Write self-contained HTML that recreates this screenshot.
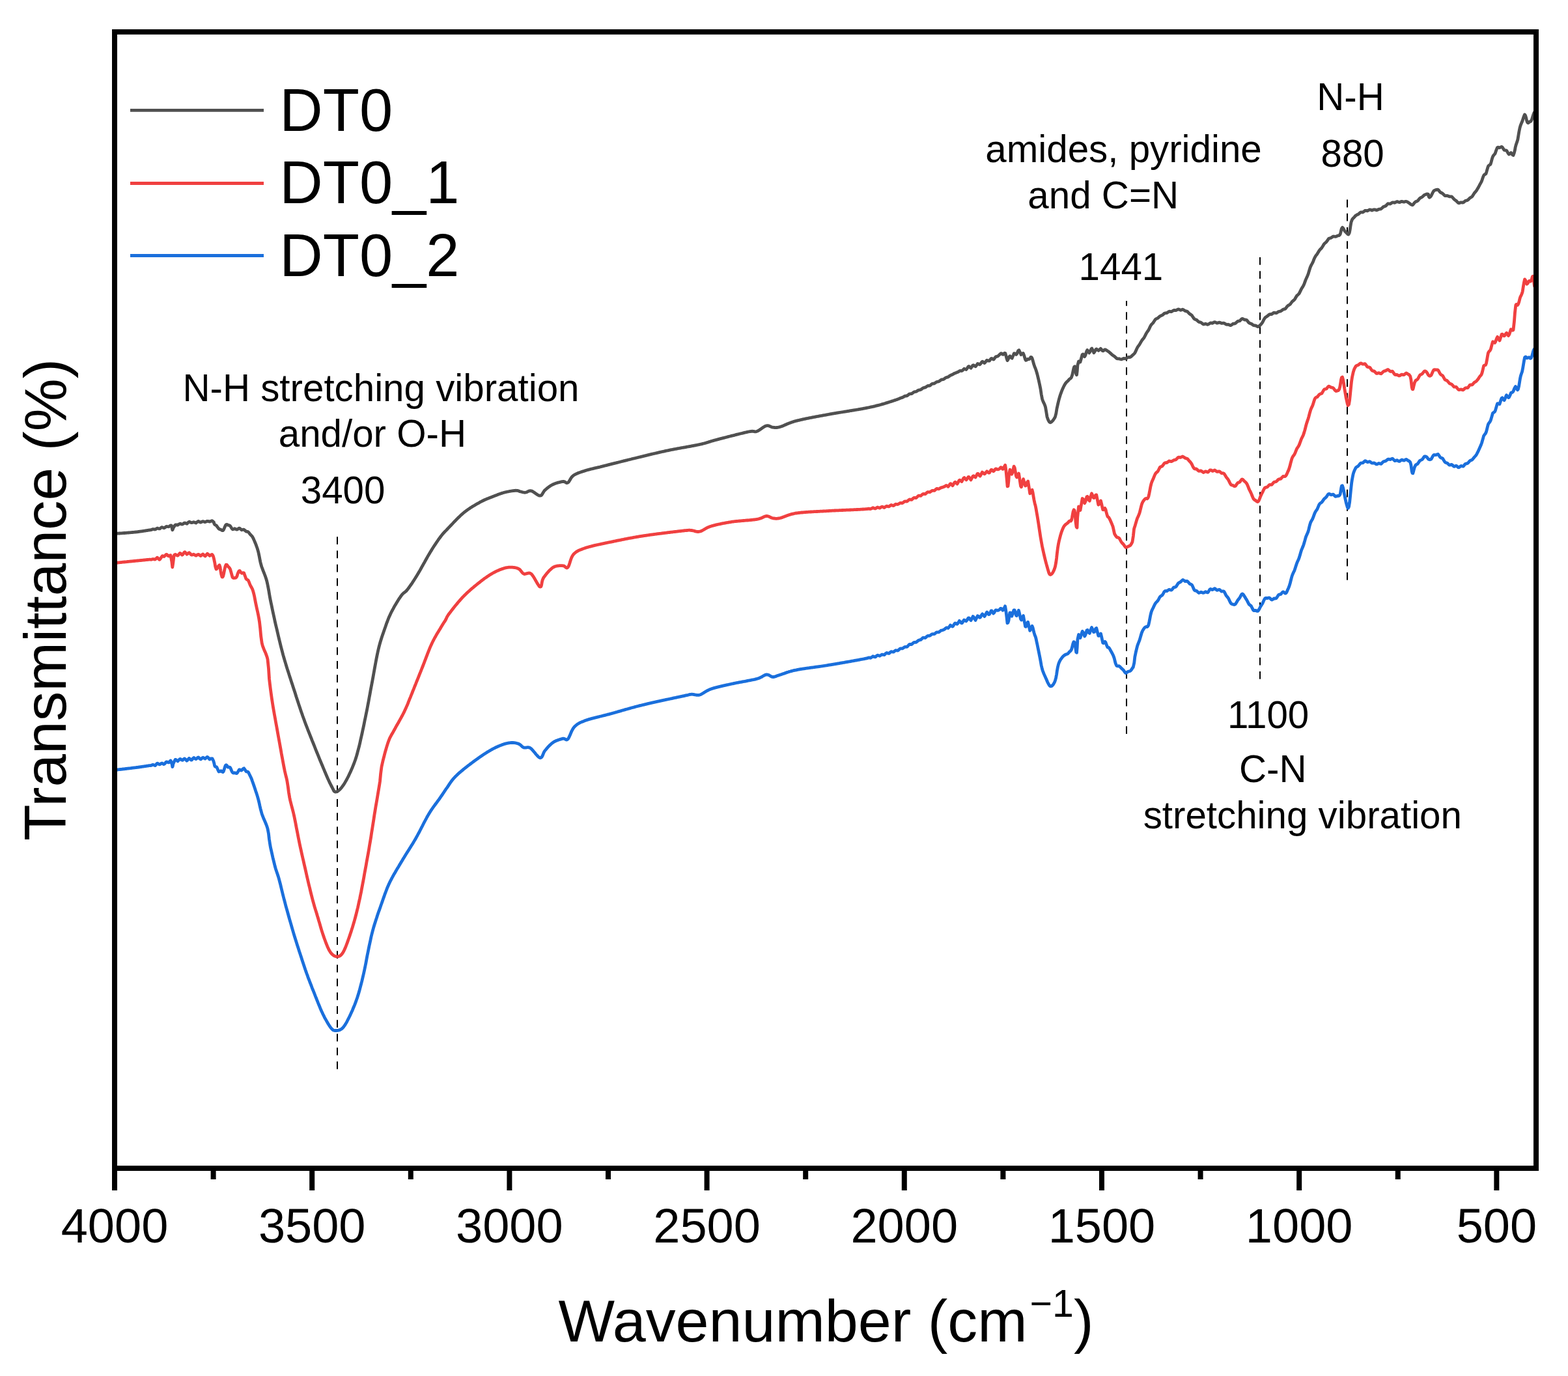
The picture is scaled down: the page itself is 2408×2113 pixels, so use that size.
<!DOCTYPE html><html><head><meta charset="utf-8"><style>html,body{margin:0;padding:0;background:#fff;}svg{display:block;}text{font-family:"Liberation Sans",Arial,sans-serif;fill:#000;}</style></head><body>
<svg width="2408" height="2113" viewBox="0 0 2408 2113">
<rect width="2408" height="2113" fill="#fff"/>
<defs><clipPath id="pc"><rect x="180" y="53" width="2175" height="1737"/></clipPath></defs>
<g stroke="#000" stroke-width="2" stroke-dasharray="11.8 9.4" fill="none">
<path d="M518,1641.7 V824"/>
<path d="M1730,1127 V462"/>
<path d="M1935,1042.8 V394"/>
<path d="M2069,890.8 V306"/>
</g>
<g clip-path="url(#pc)" fill="none" stroke-width="4.8" stroke-linejoin="round" stroke-linecap="round">
<path d="M176.0,819.5 L176.5,819.5 L177.1,819.4 L177.8,819.4 L178.5,819.3 L179.3,819.3 L180.1,819.2 L181.0,819.2 L181.9,819.1 L182.9,819.0 L183.8,819.0 L184.9,818.9 L185.9,818.8 L187.0,818.8 L188.1,818.7 L189.2,818.6 L190.4,818.5 L191.5,818.5 L192.7,818.4 L193.9,818.3 L195.1,818.2 L196.3,818.1 L197.4,818.0 L198.6,817.9 L199.8,817.8 L201.0,817.7 L202.1,817.6 L203.2,817.5 L204.3,817.4 L205.4,817.3 L206.5,817.2 L207.5,817.1 L208.5,817.0 L209.5,816.9 L210.6,816.8 L211.6,816.6 L212.7,816.5 L213.7,816.4 L214.7,816.2 L215.8,816.1 L216.8,815.9 L217.8,815.8 L218.9,815.6 L219.9,815.5 L220.9,815.3 L221.9,815.2 L223.0,815.0 L224.0,814.9 L225.0,814.7 L226.0,814.6 L227.0,814.4 L228.0,814.2 L229.0,814.1 L229.9,813.9 L230.9,813.9 L231.9,813.7 L232.9,813.4 L233.8,813.0 L234.8,812.6 L235.7,812.6 L236.7,812.8 L237.6,813.0 L238.5,812.9 L239.6,812.3 L240.7,811.5 L241.9,811.1 L243.0,811.5 L244.2,811.9 L245.4,811.9 L246.5,811.0 L247.7,810.0 L248.9,809.6 L250.0,810.1 L251.1,810.6 L252.2,810.9 L253.3,810.1 L254.4,809.3 L255.5,808.5 L256.5,808.6 L257.4,808.7 L258.4,808.8 L259.3,808.7 L260.1,808.2 L260.9,807.6 L261.6,807.2 L262.3,806.8 L262.9,806.9 L263.5,807.3 L264.8,813.9 L265.3,813.0 L266.1,810.7 L268.5,806.9 L269.2,806.1 L269.9,805.8 L270.8,805.9 L271.7,806.1 L272.7,806.3 L273.8,805.8 L274.9,805.1 L276.0,804.3 L277.1,804.2 L278.3,804.7 L279.5,805.1 L280.6,804.9 L281.8,804.0 L282.9,803.2 L284.0,803.0 L285.0,803.4 L286.0,803.8 L287.1,804.2 L288.0,803.3 L289.0,802.4 L289.9,801.6 L290.8,801.2 L291.7,801.6 L292.6,802.1 L293.5,802.5 L294.4,802.6 L295.4,802.4 L296.3,802.1 L297.4,801.7 L298.5,802.1 L299.7,802.5 L301.0,803.0 L301.8,802.4 L302.7,801.7 L303.7,801.0 L304.7,800.4 L305.7,801.0 L306.8,801.6 L307.9,802.2 L309.0,801.8 L310.1,801.2 L311.3,800.6 L312.5,800.8 L313.6,801.2 L314.8,801.7 L315.9,801.3 L317.1,800.8 L318.2,800.3 L319.2,800.3 L320.3,800.6 L321.3,800.9 L322.2,801.0 L323.1,800.6 L323.9,800.2 L324.7,799.9 L325.4,799.6 L326.0,799.9 L328.5,802.1 L328.7,803.7 L329.8,805.6 L330.5,806.0 L331.4,806.5 L332.4,807.1 L333.4,808.5 L334.6,810.1 L335.7,811.7 L336.9,812.5 L338.0,813.0 L339.1,813.3 L340.1,813.9 L341.0,814.5 L342.2,814.6 L343.3,813.6 L344.3,811.4 L345.3,809.0 L346.3,806.8 L347.3,805.6 L348.5,805.4 L349.4,805.8 L350.3,806.3 L351.2,806.5 L352.2,806.8 L353.2,807.3 L354.2,808.6 L355.2,810.3 L356.3,811.9 L357.4,812.8 L358.5,812.6 L359.5,812.2 L360.5,811.7 L361.5,812.3 L362.6,812.8 L363.7,813.2 L364.8,812.8 L365.8,812.0 L366.9,811.2 L368.0,811.2 L369.0,812.0 L370.0,812.9 L371.0,813.9 L372.1,813.5 L373.2,813.3 L374.3,813.1 L375.3,813.7 L376.3,814.6 L377.3,815.5 L378.3,816.2 L379.2,816.3 L380.1,816.4 L381.0,816.7 L382.2,817.9 L383.3,819.4 L384.4,820.8 L385.4,821.8 L386.4,822.7 L387.5,824.0 L388.5,825.8 L389.6,828.1 L390.7,830.6 L391.8,833.2 L393.0,836.1 L394.0,839.0 L395.1,842.0 L396.0,845.0 L397.1,849.2 L398.0,853.6 L398.9,858.2 L399.8,862.8 L401.0,867.5 L401.9,870.5 L403.0,873.4 L404.1,876.4 L405.3,879.4 L406.5,882.5 L407.7,885.7 L408.8,889.0 L409.8,892.5 L410.9,897.4 L411.9,902.5 L412.9,907.8 L413.8,913.3 L414.8,919.1 L416.0,925.0 L417.0,929.6 L418.0,934.4 L419.0,939.2 L420.1,944.2 L421.2,949.3 L422.3,954.5 L423.5,959.7 L424.8,965.0 L425.7,968.9 L426.6,972.8 L427.5,976.8 L428.5,980.9 L429.5,985.0 L430.5,989.1 L431.5,993.2 L432.6,997.4 L433.7,1001.6 L434.8,1005.8 L436.0,1010.0 L436.9,1013.1 L437.8,1016.2 L438.8,1019.4 L439.7,1022.6 L440.7,1025.7 L441.7,1028.9 L442.8,1032.1 L443.8,1035.4 L444.8,1038.6 L445.9,1041.8 L446.9,1044.9 L447.9,1048.1 L449.0,1051.3 L450.0,1054.4 L451.0,1057.5 L452.0,1060.6 L453.0,1063.6 L454.0,1066.7 L454.9,1069.7 L455.9,1072.7 L456.9,1075.7 L457.9,1078.7 L458.8,1081.6 L459.8,1084.6 L460.8,1087.6 L461.8,1090.6 L462.8,1093.5 L463.9,1096.5 L464.9,1099.5 L466.0,1102.5 L467.0,1105.2 L467.9,1107.8 L468.9,1110.5 L469.9,1113.1 L471.0,1115.8 L472.0,1118.5 L473.0,1121.2 L474.1,1123.8 L475.1,1126.5 L476.2,1129.1 L477.2,1131.8 L478.3,1134.4 L479.3,1137.1 L480.4,1139.7 L481.4,1142.3 L482.5,1144.9 L483.5,1147.5 L484.5,1150.1 L485.6,1152.8 L486.7,1155.5 L487.8,1158.2 L488.9,1160.9 L490.0,1163.6 L491.1,1166.3 L492.2,1169.0 L493.3,1171.7 L494.4,1174.3 L495.5,1176.8 L496.5,1179.3 L497.5,1181.7 L498.4,1183.9 L499.3,1186.1 L500.2,1188.1 L501.0,1190.0 L502.4,1193.2 L503.6,1196.0 L504.8,1198.5 L505.8,1200.7 L506.7,1202.7 L507.6,1204.4 L508.4,1206.0 L509.2,1207.5 L510.0,1209.0 L511.2,1211.4 L512.1,1213.3 L512.9,1214.7 L513.8,1215.6 L515.0,1216.0 L515.8,1216.0 L516.7,1215.8 L517.6,1215.5 L518.6,1215.0 L519.6,1214.3 L520.6,1213.5 L521.7,1212.5 L522.8,1211.4 L524.0,1210.0 L524.9,1208.9 L525.8,1207.6 L526.8,1206.3 L527.8,1204.8 L528.8,1203.3 L529.8,1201.7 L530.8,1199.9 L531.9,1198.1 L532.9,1196.2 L533.9,1194.2 L535.0,1192.1 L536.0,1190.0 L537.0,1187.8 L538.1,1185.6 L539.1,1183.3 L540.1,1180.9 L541.2,1178.5 L542.2,1175.9 L543.3,1173.3 L544.3,1170.5 L545.4,1167.5 L546.4,1164.4 L547.5,1161.0 L548.5,1157.5 L549.5,1153.7 L550.6,1149.6 L551.7,1145.3 L552.8,1140.7 L553.8,1136.1 L554.9,1131.2 L556.0,1126.4 L557.0,1121.5 L558.1,1116.6 L559.1,1111.8 L560.0,1107.1 L561.0,1102.5 L562.1,1097.1 L563.2,1091.8 L564.2,1086.6 L565.2,1081.3 L566.2,1076.1 L567.1,1070.9 L568.1,1065.7 L569.0,1060.5 L570.0,1055.2 L571.0,1050.0 L572.0,1044.7 L573.0,1039.2 L574.0,1033.6 L575.0,1028.0 L576.0,1022.5 L577.0,1017.1 L578.0,1011.8 L579.0,1006.7 L580.0,1001.9 L581.0,997.5 L582.0,993.4 L583.0,989.6 L584.0,986.0 L585.0,982.7 L586.0,979.5 L587.0,976.5 L588.0,973.6 L589.0,970.7 L590.0,967.9 L591.0,965.0 L592.0,962.2 L592.9,959.5 L593.8,956.9 L594.8,954.5 L595.7,952.0 L596.6,949.6 L597.6,947.3 L598.7,944.9 L599.8,942.5 L601.0,940.0 L601.9,938.3 L602.8,936.6 L603.8,934.8 L604.8,932.9 L605.8,931.1 L606.9,929.3 L608.0,927.5 L609.0,925.7 L610.1,923.9 L611.2,922.2 L612.2,920.6 L613.2,919.0 L614.2,917.6 L615.1,916.2 L616.0,915.0 L617.2,913.4 L618.2,912.2 L619.2,911.3 L620.1,910.5 L621.0,909.8 L621.9,909.2 L622.8,908.4 L623.8,907.6 L624.8,906.4 L626.0,905.0 L626.8,903.9 L627.7,902.7 L628.6,901.5 L629.5,900.2 L630.4,898.9 L631.4,897.5 L632.4,896.1 L633.4,894.6 L634.4,893.0 L635.4,891.4 L636.5,889.7 L637.6,888.0 L638.7,886.2 L639.8,884.4 L641.0,882.5 L641.9,881.0 L642.8,879.5 L643.8,877.8 L644.8,876.1 L645.8,874.3 L646.8,872.5 L647.8,870.7 L648.9,868.8 L649.9,866.9 L651.0,865.0 L652.1,863.1 L653.1,861.2 L654.2,859.3 L655.2,857.5 L656.2,855.7 L657.2,853.9 L658.2,852.2 L659.2,850.6 L660.1,849.0 L661.0,847.5 L662.2,845.6 L663.3,843.8 L664.4,842.0 L665.5,840.3 L666.5,838.7 L667.6,837.1 L668.6,835.6 L669.6,834.1 L670.5,832.7 L671.5,831.3 L672.4,830.0 L673.3,828.7 L674.2,827.4 L675.1,826.2 L676.0,825.0 L677.1,823.5 L678.1,822.3 L678.9,821.2 L679.7,820.2 L680.5,819.3 L681.3,818.5 L682.1,817.5 L683.1,816.5 L684.2,815.4 L685.5,814.1 L687.0,812.5 L687.7,811.7 L688.5,810.9 L689.3,810.0 L690.2,809.1 L691.1,808.2 L692.0,807.2 L693.0,806.2 L694.0,805.1 L695.0,804.1 L696.0,803.0 L697.0,801.9 L698.1,800.8 L699.2,799.7 L700.2,798.6 L701.3,797.5 L702.4,796.4 L703.5,795.3 L704.6,794.2 L705.7,793.2 L706.8,792.1 L707.8,791.1 L708.9,790.2 L710.0,789.2 L711.0,788.3 L712.0,787.5 L713.0,786.7 L714.0,785.9 L715.0,785.1 L716.1,784.3 L717.1,783.6 L718.1,782.8 L719.1,782.1 L720.2,781.4 L721.2,780.7 L722.2,780.0 L723.3,779.3 L724.3,778.7 L725.3,778.0 L726.3,777.4 L727.4,776.8 L728.4,776.2 L729.4,775.6 L730.4,775.0 L731.3,774.4 L732.3,773.9 L733.3,773.3 L734.2,772.8 L735.2,772.3 L736.1,771.8 L737.0,771.2 L738.1,770.6 L739.2,770.1 L740.3,769.5 L741.4,769.0 L742.4,768.5 L743.4,768.0 L744.5,767.5 L745.5,767.1 L746.5,766.7 L747.5,766.2 L748.4,765.8 L749.4,765.5 L750.4,765.1 L751.3,764.7 L752.3,764.3 L753.2,764.0 L754.2,763.6 L755.1,763.2 L756.1,762.9 L757.0,762.5 L758.1,762.1 L759.2,761.6 L760.2,761.2 L761.3,760.8 L762.3,760.4 L763.4,760.0 L764.4,759.6 L765.4,759.2 L766.4,758.8 L767.4,758.5 L768.4,758.1 L769.4,757.8 L770.4,757.4 L771.4,757.1 L772.5,756.8 L773.5,756.5 L774.5,756.2 L775.5,756.0 L776.6,755.7 L777.7,755.5 L778.8,755.2 L780.0,755.0 L781.1,754.8 L782.2,754.5 L783.3,754.3 L784.4,754.2 L785.5,754.0 L786.6,753.8 L787.6,753.7 L788.6,753.6 L789.5,753.5 L790.4,753.4 L791.2,753.3 L792.0,753.2 L793.6,753.3 L794.9,753.4 L795.9,753.7 L796.8,754.0 L797.6,754.4 L798.5,754.7 L799.5,755.0 L800.6,755.2 L801.6,755.5 L802.6,755.8 L803.7,756.0 L804.8,756.2 L805.9,756.3 L807.0,756.2 L808.0,756.0 L809.0,755.7 L810.0,755.1 L811.0,754.6 L812.0,754.1 L813.2,753.8 L814.4,753.6 L815.8,753.8 L816.7,754.0 L817.7,754.5 L818.7,755.1 L819.8,755.9 L821.0,756.6 L822.1,757.5 L823.3,758.3 L824.4,759.1 L825.6,759.8 L826.7,760.4 L827.7,760.9 L828.6,761.2 L829.5,761.2 L830.9,760.9 L832.0,759.9 L832.9,758.6 L833.8,757.1 L834.7,755.5 L835.7,753.9 L837.0,752.5 L837.9,751.8 L838.8,751.0 L839.7,750.2 L840.7,749.4 L841.7,748.6 L842.8,747.8 L843.9,747.1 L845.0,746.3 L846.1,745.6 L847.2,744.9 L848.4,744.3 L849.5,743.8 L850.4,743.3 L851.4,742.9 L852.5,742.5 L853.5,742.1 L854.6,741.8 L855.7,741.4 L856.8,741.1 L857.9,740.8 L858.9,740.6 L860.0,740.3 L861.0,740.1 L861.9,739.9 L862.9,739.7 L863.7,739.6 L864.5,739.5 L866.0,739.5 L867.2,739.9 L868.2,740.5 L869.1,741.1 L870.0,741.5 L870.9,741.6 L872.0,741.2 L873.0,740.4 L873.9,739.3 L874.8,737.8 L875.7,736.2 L876.7,734.5 L877.8,732.9 L879.2,731.3 L880.8,730.0 L881.5,729.5 L882.4,729.0 L883.2,728.5 L884.1,728.1 L885.1,727.6 L886.0,727.2 L887.0,726.8 L888.1,726.3 L889.1,725.9 L890.2,725.5 L891.3,725.2 L892.4,724.8 L893.6,724.4 L894.7,724.0 L895.9,723.6 L897.1,723.3 L898.3,722.9 L899.5,722.5 L900.4,722.2 L901.2,722.0 L902.1,721.7 L902.9,721.5 L903.7,721.3 L904.5,721.1 L905.3,720.8 L906.2,720.6 L907.0,720.4 L907.9,720.2 L908.7,720.0 L909.6,719.8 L910.5,719.6 L911.4,719.4 L912.4,719.1 L913.4,718.9 L914.4,718.7 L915.5,718.4 L916.6,718.2 L917.8,717.9 L919.0,717.6 L920.3,717.3 L921.6,717.0 L923.0,716.6 L924.5,716.2 L925.3,716.1 L926.0,715.9 L926.8,715.7 L927.7,715.5 L928.5,715.2 L929.3,715.0 L930.2,714.8 L931.1,714.6 L932.0,714.4 L932.9,714.1 L933.8,713.9 L934.8,713.7 L935.7,713.4 L936.7,713.2 L937.7,712.9 L938.7,712.7 L939.6,712.4 L940.7,712.2 L941.7,711.9 L942.7,711.7 L943.7,711.4 L944.8,711.1 L945.8,710.9 L946.9,710.6 L947.9,710.3 L949.0,710.1 L950.1,709.8 L951.1,709.5 L952.2,709.3 L953.3,709.0 L954.4,708.7 L955.5,708.5 L956.5,708.2 L957.6,707.9 L958.7,707.6 L959.8,707.4 L960.9,707.1 L962.0,706.8 L963.0,706.6 L964.1,706.3 L965.2,706.0 L966.2,705.8 L967.3,705.5 L968.3,705.3 L969.4,705.0 L970.4,704.7 L971.5,704.5 L972.5,704.2 L973.5,704.0 L974.5,703.8 L975.5,703.5 L976.5,703.3 L977.5,703.0 L978.5,702.8 L979.5,702.5 L980.5,702.3 L981.5,702.0 L982.5,701.8 L983.5,701.6 L984.5,701.3 L985.5,701.1 L986.5,700.8 L987.5,700.6 L988.5,700.3 L989.5,700.1 L990.5,699.9 L991.5,699.6 L992.5,699.4 L993.5,699.1 L994.5,698.9 L995.5,698.6 L996.5,698.4 L997.5,698.2 L998.5,697.9 L999.5,697.7 L1000.5,697.4 L1001.5,697.2 L1002.5,697.0 L1003.5,696.7 L1004.5,696.5 L1005.5,696.3 L1006.5,696.0 L1007.5,695.8 L1008.5,695.6 L1009.5,695.3 L1010.5,695.1 L1011.5,694.9 L1012.5,694.6 L1013.5,694.4 L1014.5,694.2 L1015.5,694.0 L1016.5,693.7 L1017.5,693.5 L1018.5,693.3 L1019.5,693.1 L1020.5,692.9 L1021.5,692.6 L1022.5,692.4 L1023.5,692.2 L1024.5,692.0 L1025.5,691.8 L1026.5,691.6 L1027.5,691.4 L1028.6,691.2 L1029.6,690.9 L1030.7,690.7 L1031.7,690.5 L1032.8,690.3 L1033.8,690.1 L1034.9,689.9 L1036.0,689.7 L1037.0,689.5 L1038.1,689.3 L1039.2,689.1 L1040.3,688.9 L1041.4,688.7 L1042.5,688.5 L1043.5,688.3 L1044.6,688.1 L1045.7,687.9 L1046.8,687.7 L1047.9,687.5 L1048.9,687.3 L1050.0,687.1 L1051.1,687.0 L1052.1,686.8 L1053.2,686.6 L1054.2,686.4 L1055.3,686.2 L1056.3,686.0 L1057.3,685.8 L1058.3,685.6 L1059.4,685.5 L1060.3,685.3 L1061.3,685.1 L1062.3,684.9 L1063.3,684.7 L1064.2,684.6 L1065.2,684.4 L1066.1,684.2 L1067.0,684.0 L1067.9,683.9 L1068.8,683.7 L1069.7,683.5 L1070.5,683.3 L1071.3,683.2 L1072.2,683.0 L1073.0,682.8 L1073.7,682.7 L1074.5,682.5 L1075.9,682.2 L1077.3,681.9 L1078.5,681.6 L1079.6,681.3 L1080.7,681.0 L1081.7,680.8 L1082.6,680.5 L1083.5,680.3 L1084.3,680.0 L1085.1,679.8 L1085.9,679.5 L1086.6,679.3 L1087.4,679.1 L1088.1,678.8 L1088.9,678.6 L1089.7,678.3 L1090.5,678.1 L1091.4,677.8 L1092.3,677.5 L1093.3,677.2 L1094.4,676.9 L1095.5,676.6 L1096.7,676.2 L1098.1,675.9 L1099.5,675.5 L1100.3,675.3 L1101.1,675.1 L1101.9,674.9 L1102.8,674.7 L1103.7,674.4 L1104.6,674.2 L1105.5,673.9 L1106.5,673.7 L1107.5,673.4 L1108.5,673.2 L1109.5,672.9 L1110.6,672.6 L1111.7,672.3 L1112.7,672.1 L1113.8,671.8 L1115.0,671.5 L1116.1,671.2 L1117.2,670.9 L1118.4,670.6 L1119.5,670.3 L1120.7,670.0 L1121.8,669.7 L1123.0,669.4 L1124.1,669.1 L1125.3,668.8 L1126.4,668.6 L1127.6,668.3 L1128.7,668.0 L1129.9,667.7 L1131.0,667.4 L1132.1,667.1 L1133.2,666.8 L1134.3,666.6 L1135.4,666.3 L1136.5,666.0 L1137.5,665.8 L1138.5,665.5 L1139.6,665.3 L1140.5,665.1 L1141.5,664.8 L1142.4,664.6 L1143.3,664.4 L1144.2,664.2 L1145.1,664.0 L1145.9,663.8 L1146.7,663.6 L1147.5,663.4 L1148.2,663.3 L1148.9,663.1 L1149.5,663.0 L1151.8,662.6 L1153.7,662.3 L1155.2,662.2 L1156.4,662.3 L1157.2,662.4 L1157.9,662.5 L1158.5,662.7 L1159.0,662.8 L1159.6,662.9 L1160.2,662.9 L1161.0,662.8 L1162.0,662.5 L1162.9,662.1 L1163.9,661.7 L1164.9,661.1 L1166.0,660.5 L1167.0,659.8 L1168.1,659.1 L1169.1,658.3 L1170.2,657.6 L1171.2,656.8 L1172.3,656.1 L1173.3,655.5 L1174.3,654.9 L1175.2,654.4 L1176.1,654.0 L1177.0,653.8 L1178.2,653.6 L1179.3,653.6 L1180.3,653.8 L1181.3,654.1 L1182.2,654.5 L1183.2,654.9 L1184.1,655.4 L1185.0,655.8 L1186.0,656.1 L1187.0,656.2 L1187.9,656.3 L1188.7,656.4 L1189.5,656.5 L1190.3,656.6 L1191.1,656.6 L1192.0,656.6 L1192.9,656.5 L1194.0,656.4 L1195.1,656.2 L1196.5,655.9 L1198.0,655.5 L1198.7,655.3 L1199.5,655.0 L1200.2,654.8 L1200.9,654.5 L1201.7,654.2 L1202.5,653.9 L1203.3,653.5 L1204.1,653.2 L1204.9,652.8 L1205.8,652.4 L1206.7,652.1 L1207.6,651.7 L1208.5,651.2 L1209.5,650.8 L1210.5,650.4 L1211.6,650.0 L1212.7,649.6 L1213.8,649.1 L1215.0,648.7 L1216.2,648.3 L1217.4,647.9 L1218.7,647.4 L1220.1,647.0 L1221.5,646.6 L1223.0,646.2 L1223.8,646.1 L1224.5,645.9 L1225.3,645.7 L1226.1,645.5 L1226.9,645.3 L1227.8,645.1 L1228.6,644.9 L1229.5,644.7 L1230.3,644.5 L1231.2,644.3 L1232.1,644.1 L1233.0,643.9 L1233.9,643.7 L1234.8,643.5 L1235.8,643.3 L1236.7,643.1 L1237.7,642.9 L1238.6,642.7 L1239.6,642.5 L1240.6,642.3 L1241.6,642.1 L1242.6,641.9 L1243.6,641.7 L1244.6,641.5 L1245.7,641.3 L1246.7,641.1 L1247.7,640.9 L1248.8,640.7 L1249.8,640.5 L1250.9,640.3 L1252.0,640.1 L1253.0,639.9 L1254.1,639.7 L1255.2,639.5 L1256.3,639.3 L1257.4,639.1 L1258.5,638.9 L1259.6,638.7 L1260.7,638.5 L1261.8,638.3 L1262.9,638.1 L1264.0,637.9 L1265.1,637.7 L1266.3,637.5 L1267.4,637.3 L1268.5,637.1 L1269.6,636.9 L1270.8,636.7 L1271.9,636.5 L1273.0,636.2 L1273.9,636.1 L1274.8,635.9 L1275.8,635.7 L1276.7,635.6 L1277.7,635.4 L1278.7,635.2 L1279.6,635.1 L1280.6,634.9 L1281.6,634.7 L1282.6,634.6 L1283.7,634.4 L1284.7,634.2 L1285.7,634.0 L1286.8,633.9 L1287.8,633.7 L1288.9,633.5 L1289.9,633.3 L1291.0,633.2 L1292.0,633.0 L1293.1,632.8 L1294.2,632.7 L1295.3,632.5 L1296.4,632.3 L1297.4,632.1 L1298.5,632.0 L1299.6,631.8 L1300.7,631.6 L1301.8,631.4 L1302.9,631.3 L1303.9,631.1 L1305.0,630.9 L1306.1,630.7 L1307.2,630.6 L1308.3,630.4 L1309.3,630.2 L1310.4,630.0 L1311.5,629.9 L1312.6,629.7 L1313.6,629.5 L1314.7,629.3 L1315.7,629.2 L1316.7,629.0 L1317.8,628.8 L1318.8,628.6 L1319.8,628.4 L1320.8,628.3 L1321.8,628.1 L1322.8,627.9 L1323.8,627.8 L1324.8,627.6 L1325.8,627.4 L1326.7,627.2 L1327.6,627.1 L1328.6,626.9 L1329.5,626.7 L1330.4,626.5 L1331.3,626.4 L1332.1,626.2 L1333.0,626.0 L1333.9,625.8 L1334.7,625.7 L1335.5,625.5 L1336.8,625.2 L1338.1,624.9 L1339.4,624.6 L1340.7,624.4 L1341.9,624.1 L1343.1,623.8 L1344.3,623.5 L1345.5,623.2 L1346.6,622.9 L1347.8,622.6 L1348.9,622.3 L1350.0,622.1 L1351.0,621.8 L1352.1,621.5 L1353.1,621.2 L1354.1,620.9 L1355.1,620.6 L1356.1,620.3 L1357.1,620.1 L1358.0,619.8 L1359.0,619.5 L1359.9,619.2 L1360.8,618.9 L1361.7,618.6 L1362.7,618.4 L1363.5,618.1 L1364.4,617.8 L1365.3,617.5 L1366.2,617.2 L1367.0,617.0 L1367.9,616.7 L1368.8,616.4 L1369.6,616.1 L1370.5,615.8 L1371.3,615.6 L1372.2,615.3 L1373.0,615.0 L1374.2,614.6 L1375.4,614.2 L1376.6,613.8 L1377.7,613.4 L1378.8,613.0 L1379.9,612.6 L1380.9,612.2 L1381.9,611.7 L1382.9,611.3 L1383.9,610.9 L1384.9,610.7 L1385.8,610.4 L1386.7,610.0 L1387.7,609.4 L1388.6,608.8 L1389.5,608.1 L1390.4,608.1 L1391.4,608.0 L1392.3,607.9 L1393.2,607.7 L1394.1,606.9 L1395.1,606.1 L1396.0,605.3 L1397.0,604.9 L1398.0,604.8 L1399.0,604.7 L1400.0,604.7 L1401.0,603.9 L1402.0,603.2 L1403.0,602.4 L1404.0,601.9 L1405.0,601.7 L1406.0,601.5 L1407.0,601.3 L1408.0,600.7 L1409.0,600.0 L1410.0,599.4 L1411.0,599.0 L1412.0,598.8 L1413.0,598.7 L1414.0,598.5 L1415.0,597.7 L1416.0,597.0 L1417.0,596.2 L1418.0,595.7 L1419.0,595.4 L1420.0,595.2 L1421.0,595.0 L1422.0,594.3 L1423.0,593.6 L1424.0,592.9 L1425.0,592.5 L1426.0,592.4 L1427.1,592.3 L1428.1,592.1 L1429.1,591.3 L1430.1,590.4 L1431.2,589.6 L1432.2,589.2 L1433.2,589.1 L1434.3,589.0 L1435.3,588.6 L1436.3,587.9 L1437.3,587.2 L1438.4,586.5 L1439.4,586.2 L1440.4,586.1 L1441.4,585.9 L1442.3,585.5 L1443.3,584.7 L1444.3,584.0 L1445.2,583.2 L1446.2,582.9 L1447.1,582.8 L1448.0,582.7 L1449.1,582.5 L1450.2,581.6 L1451.2,580.8 L1452.2,580.0 L1453.2,579.7 L1454.2,579.4 L1455.2,579.2 L1456.1,578.9 L1457.1,578.2 L1458.0,577.5 L1458.9,576.8 L1459.9,576.2 L1460.8,575.9 L1461.8,575.5 L1462.8,575.1 L1463.8,574.5 L1464.8,573.9 L1465.8,573.3 L1466.9,572.9 L1468.0,572.5 L1468.9,572.1 L1469.8,571.7 L1470.8,571.4 L1471.7,571.0 L1472.7,570.3 L1473.7,569.5 L1474.6,569.3 L1475.6,569.4 L1476.6,569.6 L1477.6,569.2 L1478.7,568.3 L1479.7,567.2 L1480.7,566.3 L1481.7,566.7 L1482.8,567.1 L1483.8,567.5 L1484.8,566.3 L1485.9,564.7 L1486.9,563.1 L1487.9,562.5 L1488.9,563.4 L1490.0,564.4 L1491.0,565.3 L1492.0,563.9 L1493.0,562.4 L1494.0,561.0 L1495.0,560.7 L1496.1,561.5 L1497.1,562.3 L1498.2,562.7 L1499.3,561.3 L1500.4,559.9 L1501.4,558.4 L1502.5,558.8 L1503.6,559.3 L1504.7,559.8 L1505.7,558.8 L1506.8,557.3 L1507.9,555.7 L1508.9,555.1 L1509.9,555.9 L1510.9,556.8 L1511.9,557.6 L1512.9,556.6 L1513.8,555.4 L1514.7,554.2 L1515.6,553.2 L1516.4,553.5 L1517.2,553.9 L1518.0,554.2 L1519.5,554.0 L1520.8,552.2 L1522.1,550.6 L1523.2,550.5 L1524.2,551.2 L1525.2,551.8 L1526.1,552.0 L1527.0,550.6 L1527.8,549.5 L1528.7,548.4 L1529.6,547.6 L1530.5,547.5 L1531.6,547.2 L1532.7,546.7 L1533.8,545.7 L1534.8,544.8 L1535.8,543.9 L1536.8,542.9 L1537.8,542.7 L1538.7,543.1 L1539.6,544.2 L1540.5,544.3 L1541.7,543.3 L1542.8,542.2 L1543.9,542.6 L1544.9,546.2 L1545.9,550.1 L1547.0,553.6 L1548.0,552.1 L1549.0,550.0 L1550.0,547.6 L1551.0,546.8 L1551.9,548.0 L1553.0,549.3 L1554.2,550.1 L1555.5,546.9 L1556.4,544.9 L1557.3,542.6 L1558.3,542.8 L1559.4,543.6 L1560.5,544.4 L1561.6,543.4 L1562.7,540.8 L1563.8,538.3 L1564.9,537.7 L1566.0,540.0 L1567.0,542.3 L1568.0,544.7 L1569.1,543.5 L1570.2,542.8 L1571.3,542.4 L1572.4,545.1 L1573.5,548.5 L1574.5,551.7 L1575.4,553.3 L1576.4,552.9 L1577.2,552.4 L1578.0,551.5 L1579.3,551.6 L1580.4,551.7 L1581.2,550.8 L1582.1,549.9 L1583.0,548.3 L1584.0,548.5 L1585.0,550.1 L1586.0,553.2 L1587.0,557.0 L1588.0,560.3 L1589.0,563.1 L1590.0,565.5 L1591.0,568.3 L1592.0,571.5 L1593.0,575.0 L1594.0,579.1 L1595.1,583.8 L1596.2,588.7 L1597.2,593.4 L1598.0,597.5 L1599.2,605.6 L1600.5,612.5 L1601.4,615.1 L1602.4,617.6 L1603.6,619.9 L1604.6,622.4 L1605.5,625.0 L1606.8,632.7 L1608.0,640.0 L1608.8,642.4 L1609.7,644.8 L1610.7,646.8 L1611.8,648.2 L1613.0,648.8 L1614.0,648.5 L1615.1,647.6 L1616.3,646.4 L1617.5,644.9 L1618.6,643.3 L1619.7,641.6 L1620.5,640.0 L1621.9,634.5 L1623.0,627.5 L1623.8,623.9 L1624.7,619.9 L1625.7,615.7 L1626.8,611.5 L1628.0,607.5 L1628.9,604.8 L1629.9,602.1 L1630.9,599.5 L1632.0,596.9 L1633.1,594.5 L1634.3,592.2 L1635.5,590.0 L1636.4,588.6 L1637.4,587.4 L1638.5,586.3 L1639.6,585.3 L1640.7,584.2 L1641.7,582.8 L1642.8,581.9 L1643.8,581.2 L1644.7,580.6 L1645.5,579.3 L1646.9,575.0 L1648.0,569.8 L1648.9,565.5 L1649.7,563.2 L1650.5,562.7 L1651.6,567.7 L1652.6,574.1 L1653.5,575.7 L1654.2,570.2 L1654.9,560.9 L1656.5,554.8 L1657.2,554.9 L1658.0,555.3 L1658.9,556.0 L1659.9,552.5 L1661.0,548.5 L1662.1,544.5 L1663.2,543.9 L1664.4,545.7 L1665.6,547.6 L1666.8,545.7 L1668.0,541.8 L1668.9,539.0 L1669.8,537.6 L1670.8,539.0 L1671.7,540.4 L1672.7,541.9 L1673.7,540.6 L1674.8,538.3 L1675.8,535.9 L1676.8,535.1 L1677.9,537.3 L1678.9,539.5 L1679.9,541.8 L1681.0,540.1 L1682.0,538.3 L1683.0,536.5 L1684.0,536.0 L1685.0,536.9 L1686.1,537.7 L1687.1,538.4 L1688.1,537.4 L1689.2,536.4 L1690.2,535.4 L1691.3,536.4 L1692.3,537.7 L1693.3,538.7 L1694.3,538.9 L1695.3,537.8 L1696.2,537.1 L1697.1,536.8 L1698.0,537.1 L1699.2,537.9 L1700.3,538.5 L1701.3,539.2 L1702.4,539.9 L1703.4,540.7 L1704.4,541.6 L1705.3,542.4 L1706.3,543.3 L1707.2,544.1 L1708.1,545.0 L1709.0,545.6 L1710.2,546.4 L1711.3,547.1 L1712.3,548.0 L1713.4,549.0 L1714.4,550.0 L1715.4,550.6 L1716.6,550.8 L1717.8,550.8 L1718.7,550.8 L1719.6,551.2 L1720.6,551.5 L1721.7,551.8 L1722.7,551.6 L1723.7,551.2 L1724.8,550.7 L1725.9,550.4 L1726.9,550.6 L1728.0,550.7 L1729.0,550.8 L1730.0,550.1 L1731.1,549.4 L1732.1,548.7 L1733.2,548.5 L1734.3,548.5 L1735.3,548.5 L1736.3,548.1 L1737.4,547.3 L1738.4,546.3 L1739.3,545.3 L1740.2,544.6 L1741.5,543.5 L1742.6,542.2 L1743.7,540.3 L1744.7,538.0 L1745.7,535.7 L1746.8,533.5 L1747.9,531.8 L1749.0,530.3 L1749.9,529.1 L1750.9,527.4 L1751.9,525.6 L1752.9,523.9 L1753.9,522.3 L1754.9,521.1 L1756.0,519.8 L1757.0,518.5 L1758.0,516.6 L1759.0,514.6 L1760.0,512.6 L1761.0,510.8 L1762.0,509.4 L1763.0,508.0 L1764.0,506.6 L1765.0,504.4 L1766.0,502.3 L1767.0,500.3 L1768.0,498.7 L1769.0,497.6 L1770.0,496.6 L1770.9,495.7 L1771.8,494.2 L1772.8,492.8 L1773.7,491.4 L1774.6,490.2 L1775.6,489.6 L1776.7,489.1 L1777.8,488.6 L1779.0,487.6 L1779.8,486.9 L1780.7,486.1 L1781.6,485.4 L1782.5,485.0 L1783.4,484.6 L1784.4,484.2 L1785.4,483.7 L1786.4,482.8 L1787.4,481.9 L1788.4,481.0 L1789.5,480.8 L1790.6,480.7 L1791.7,480.7 L1792.8,480.0 L1794.0,479.2 L1794.9,478.6 L1795.8,478.2 L1796.8,478.4 L1797.8,478.5 L1798.8,478.7 L1799.9,478.1 L1800.9,477.4 L1802.0,476.7 L1803.1,476.4 L1804.2,476.5 L1805.2,476.6 L1806.3,476.5 L1807.4,475.9 L1808.4,475.3 L1809.4,474.8 L1810.4,475.1 L1811.4,475.5 L1812.3,476.0 L1813.2,476.3 L1814.0,475.9 L1815.3,475.5 L1816.5,475.2 L1817.7,475.9 L1818.8,476.6 L1819.9,477.4 L1820.9,477.7 L1821.8,477.9 L1822.8,478.1 L1823.7,478.6 L1824.6,479.6 L1825.6,480.6 L1826.5,481.6 L1827.6,482.5 L1828.6,483.0 L1829.5,483.7 L1830.4,484.4 L1831.3,485.8 L1832.3,487.2 L1833.2,488.6 L1834.2,489.8 L1835.3,490.4 L1836.5,490.9 L1837.4,491.1 L1838.3,491.9 L1839.2,492.7 L1840.2,493.6 L1841.2,494.4 L1842.3,494.7 L1843.3,494.9 L1844.4,495.2 L1845.4,496.0 L1846.5,496.9 L1847.5,497.7 L1848.6,498.0 L1849.6,497.7 L1850.6,497.4 L1851.5,497.1 L1852.6,497.6 L1853.7,498.1 L1854.7,498.4 L1855.8,497.9 L1856.8,497.3 L1857.8,496.5 L1858.7,496.0 L1859.7,496.0 L1860.8,496.1 L1861.8,496.3 L1862.9,495.8 L1864.0,495.2 L1864.9,494.7 L1865.9,494.7 L1866.9,495.2 L1867.9,495.7 L1868.9,496.2 L1869.9,495.9 L1871.0,495.6 L1872.0,495.2 L1873.1,495.2 L1874.1,495.6 L1875.1,496.0 L1876.1,496.4 L1877.1,496.3 L1878.1,496.2 L1879.0,496.1 L1880.1,496.3 L1881.2,497.0 L1882.2,497.6 L1883.2,498.2 L1884.1,498.3 L1885.1,498.3 L1886.1,498.2 L1887.1,498.5 L1888.1,499.1 L1889.2,499.5 L1890.3,499.6 L1891.5,498.8 L1892.4,498.1 L1893.4,497.2 L1894.4,497.1 L1895.4,497.0 L1896.4,496.9 L1897.5,496.4 L1898.6,495.3 L1899.7,494.3 L1900.8,493.4 L1901.9,493.1 L1903.0,492.9 L1904.1,492.6 L1905.1,491.5 L1906.1,490.5 L1907.1,489.6 L1908.1,489.4 L1909.0,489.8 L1910.2,490.5 L1911.4,491.0 L1912.5,491.0 L1913.5,491.2 L1914.6,491.6 L1915.6,492.7 L1916.5,493.9 L1917.5,495.1 L1918.5,496.0 L1919.5,496.4 L1920.5,496.8 L1921.5,497.0 L1922.5,497.7 L1923.6,498.5 L1924.6,499.3 L1925.7,499.7 L1926.7,499.9 L1927.8,499.9 L1928.8,500.1 L1929.8,500.8 L1930.9,501.3 L1931.9,501.7 L1933.0,501.2 L1934.0,500.5 L1935.0,499.6 L1935.9,498.6 L1936.8,497.7 L1937.7,496.6 L1938.6,495.3 L1939.5,493.8 L1940.4,491.9 L1941.4,490.0 L1942.5,488.2 L1943.7,487.1 L1945.0,486.3 L1946.5,485.3 L1947.3,484.6 L1948.1,483.9 L1949.0,483.1 L1949.8,482.7 L1950.8,482.6 L1951.7,482.5 L1952.7,482.5 L1953.7,482.0 L1954.8,481.2 L1955.8,480.4 L1956.9,480.1 L1958.0,480.3 L1959.1,480.6 L1960.2,480.7 L1961.3,479.9 L1962.4,479.2 L1963.4,478.5 L1964.5,478.3 L1965.6,478.1 L1966.6,477.9 L1967.6,477.4 L1968.7,476.6 L1969.6,475.8 L1970.6,475.1 L1971.5,474.9 L1972.6,474.6 L1973.7,474.3 L1974.8,473.1 L1975.9,471.6 L1977.0,470.2 L1978.1,469.2 L1979.2,468.6 L1980.2,468.0 L1981.3,467.3 L1982.3,465.9 L1983.3,464.6 L1984.3,463.2 L1985.3,462.4 L1986.2,461.6 L1987.1,460.8 L1988.1,460.0 L1989.0,458.5 L1989.8,457.0 L1990.7,455.6 L1991.5,454.1 L1992.8,453.1 L1994.0,451.9 L1995.2,450.6 L1996.3,448.4 L1997.4,446.1 L1998.4,443.9 L1999.3,442.4 L2000.3,440.9 L2001.2,439.4 L2002.1,437.8 L2003.1,435.4 L2004.0,432.9 L2005.1,429.9 L2006.2,427.4 L2007.2,425.2 L2008.2,422.9 L2009.2,420.4 L2010.1,417.2 L2011.1,414.1 L2012.0,411.0 L2013.0,408.6 L2014.0,406.6 L2015.0,404.9 L2015.9,403.2 L2016.8,401.1 L2017.6,398.9 L2018.5,396.8 L2019.5,394.7 L2020.4,393.2 L2021.5,391.7 L2022.7,390.2 L2024.0,388.1 L2024.8,386.7 L2025.7,385.2 L2026.7,383.8 L2027.7,382.7 L2028.7,381.7 L2029.7,380.7 L2030.8,379.0 L2031.9,377.2 L2033.0,375.3 L2034.1,373.9 L2035.2,373.0 L2036.3,372.1 L2037.4,370.9 L2038.5,369.3 L2039.5,367.8 L2040.5,366.4 L2041.5,366.0 L2042.6,365.7 L2043.7,365.5 L2044.8,364.8 L2045.9,364.0 L2047.1,363.2 L2048.2,363.0 L2049.2,363.2 L2050.3,363.3 L2051.3,363.3 L2052.3,362.9 L2053.3,362.5 L2054.2,362.0 L2055.0,361.8 L2055.8,361.7 L2056.5,361.6 L2058.1,359.9 L2059.0,356.6 L2059.7,353.4 L2060.4,350.8 L2061.5,349.3 L2062.4,350.1 L2063.4,351.6 L2064.5,353.7 L2065.6,355.4 L2066.8,356.6 L2068.0,357.7 L2069.1,358.8 L2070.1,359.9 L2071.0,360.0 L2072.2,357.7 L2073.2,352.8 L2074.0,347.0 L2075.0,341.2 L2076.5,337.1 L2077.3,336.0 L2078.1,335.1 L2079.1,334.2 L2080.1,333.1 L2081.1,331.9 L2082.2,330.9 L2083.3,330.2 L2084.4,329.6 L2085.5,329.2 L2086.7,328.4 L2087.8,327.3 L2089.0,326.3 L2089.9,325.8 L2090.9,325.9 L2091.8,325.9 L2092.8,326.0 L2093.8,325.4 L2094.8,324.6 L2095.8,323.8 L2096.9,323.3 L2097.9,323.5 L2098.9,323.6 L2099.9,323.8 L2101.0,323.3 L2102.0,322.7 L2103.0,322.1 L2104.0,322.0 L2105.0,322.3 L2106.0,322.6 L2107.0,323.0 L2108.0,322.6 L2109.0,322.2 L2110.0,321.8 L2111.0,321.8 L2112.0,322.1 L2113.0,322.5 L2114.0,322.8 L2115.0,322.4 L2116.0,322.0 L2117.0,321.5 L2118.0,321.2 L2119.0,321.1 L2120.0,321.0 L2120.9,320.8 L2121.8,320.0 L2122.7,319.2 L2123.6,318.4 L2124.5,317.5 L2125.4,317.2 L2126.3,316.9 L2127.3,316.6 L2128.3,316.1 L2129.3,314.9 L2130.4,313.8 L2131.5,312.7 L2132.7,312.8 L2134.0,313.0 L2134.8,313.1 L2135.7,312.7 L2136.6,312.0 L2137.6,311.4 L2138.6,310.8 L2139.7,310.9 L2140.7,311.1 L2141.8,311.3 L2142.9,310.8 L2144.1,310.2 L2145.2,309.6 L2146.3,309.7 L2147.5,310.2 L2148.6,310.6 L2149.7,310.5 L2150.8,310.0 L2151.9,309.5 L2152.9,309.4 L2153.9,309.6 L2154.9,309.9 L2155.8,310.1 L2156.7,310.0 L2157.5,309.7 L2158.3,309.5 L2159.0,309.3 L2160.9,309.8 L2162.4,310.8 L2163.6,311.6 L2164.5,312.2 L2165.4,312.8 L2166.1,313.4 L2166.9,314.0 L2167.8,314.5 L2168.8,314.8 L2169.6,314.6 L2170.3,313.9 L2171.2,312.7 L2172.3,311.2 L2174.0,309.7 L2174.8,309.5 L2175.6,309.2 L2176.6,308.8 L2177.6,307.9 L2178.7,306.5 L2179.9,305.1 L2181.1,304.0 L2182.3,303.4 L2183.5,302.8 L2184.7,301.9 L2185.9,300.8 L2187.0,299.7 L2188.1,299.0 L2189.1,298.7 L2190.0,298.4 L2190.8,298.2 L2191.5,297.8 L2193.5,298.4 L2194.0,301.7 L2195.2,303.2 L2196.0,302.8 L2196.8,302.1 L2197.7,301.0 L2198.6,299.2 L2199.6,297.1 L2200.7,295.0 L2201.8,293.2 L2202.9,292.4 L2204.1,291.9 L2205.2,291.7 L2206.2,291.3 L2207.2,291.1 L2208.2,291.1 L2209.3,292.1 L2210.4,293.4 L2211.6,294.9 L2212.7,295.8 L2213.8,296.3 L2214.9,296.8 L2216.0,297.6 L2217.1,298.7 L2218.1,299.7 L2219.0,300.5 L2220.1,300.6 L2221.2,300.6 L2222.2,300.5 L2223.1,300.7 L2224.1,301.1 L2225.0,301.4 L2225.9,301.8 L2226.9,301.8 L2227.9,301.8 L2229.0,301.9 L2229.9,302.4 L2230.9,303.5 L2231.9,304.6 L2232.9,305.8 L2233.9,306.6 L2234.9,307.4 L2236.0,308.1 L2237.1,309.1 L2238.1,310.3 L2239.2,311.3 L2240.4,311.9 L2241.5,311.6 L2242.4,311.2 L2243.4,310.8 L2244.4,310.9 L2245.4,311.0 L2246.4,311.1 L2247.4,310.8 L2248.5,310.0 L2249.5,309.1 L2250.6,308.3 L2251.6,308.0 L2252.6,307.8 L2253.6,307.4 L2254.6,306.8 L2255.6,305.8 L2256.5,304.9 L2257.6,303.8 L2258.8,303.2 L2259.9,302.5 L2260.9,301.7 L2262.0,299.9 L2263.1,298.2 L2264.1,296.6 L2265.1,295.4 L2266.1,294.3 L2267.1,293.0 L2268.1,291.6 L2269.0,290.1 L2270.1,288.2 L2271.2,286.2 L2272.2,284.2 L2273.2,282.4 L2274.2,280.6 L2275.1,278.9 L2276.1,276.3 L2277.0,273.6 L2278.0,270.7 L2279.0,268.7 L2280.0,268.0 L2281.0,267.5 L2281.9,267.0 L2282.9,263.9 L2283.8,260.6 L2284.8,257.2 L2285.8,254.6 L2286.8,253.9 L2287.9,253.1 L2289.0,252.3 L2290.0,249.1 L2290.9,245.7 L2291.9,242.1 L2293.0,239.5 L2294.0,238.2 L2295.1,237.0 L2296.2,235.5 L2297.2,232.3 L2298.3,229.3 L2299.4,226.6 L2300.5,226.1 L2301.5,226.3 L2302.5,226.8 L2303.6,226.6 L2304.7,225.9 L2305.8,225.4 L2306.8,225.7 L2307.9,227.2 L2309.0,228.9 L2310.0,230.5 L2311.1,230.7 L2312.1,230.8 L2313.0,230.8 L2314.0,231.6 L2315.1,233.6 L2316.2,235.7 L2317.3,236.9 L2318.4,236.2 L2319.5,235.4 L2320.5,234.5 L2321.4,235.9 L2322.4,237.2 L2323.2,238.0 L2324.0,238.5 L2325.3,234.9 L2326.4,230.7 L2327.2,226.0 L2328.1,222.6 L2329.0,219.9 L2330.0,217.2 L2330.9,214.0 L2331.8,208.4 L2332.8,202.4 L2334.0,196.4 L2335.0,192.9 L2336.0,190.3 L2337.1,187.8 L2338.2,185.0 L2339.4,181.1 L2340.5,178.0 L2341.5,175.9 L2342.6,177.4 L2343.6,180.7 L2344.5,184.8 L2345.5,187.8 L2346.6,188.9 L2347.8,188.2 L2348.8,186.9 L2349.9,186.9 L2351.1,186.0 L2352.4,183.6 L2353.6,179.6 L2354.7,176.1 L2355.7,173.6 L2356.5,172.3 L2358.3,171.2 L2359.0,172.0" stroke="#505050"/>
<path d="M176.0,864.5 L176.5,864.4 L177.2,864.4 L177.8,864.3 L178.6,864.2 L179.4,864.2 L180.3,864.1 L181.2,864.0 L182.2,863.9 L183.2,863.8 L184.2,863.7 L185.3,863.6 L186.4,863.5 L187.5,863.3 L188.6,863.2 L189.8,863.1 L191.0,863.0 L192.1,862.9 L193.3,862.8 L194.5,862.7 L195.6,862.5 L196.7,862.4 L197.8,862.3 L198.9,862.2 L200.0,862.1 L201.0,862.0 L202.0,861.9 L203.0,861.8 L204.0,861.7 L205.1,861.6 L206.1,861.5 L207.1,861.4 L208.1,861.3 L209.2,861.2 L210.2,861.1 L211.2,861.0 L212.3,860.9 L213.3,860.8 L214.3,860.7 L215.3,860.6 L216.4,860.5 L217.4,860.4 L218.4,860.3 L219.4,860.2 L220.3,860.1 L221.3,860.0 L222.3,859.9 L223.2,859.8 L224.2,859.7 L225.1,859.6 L226.0,859.5 L227.1,859.4 L228.3,859.3 L229.4,859.2 L230.6,859.2 L231.7,859.3 L232.8,859.1 L234.0,858.7 L235.1,858.5 L236.2,858.7 L237.2,859.0 L238.3,859.0 L239.3,858.1 L240.3,857.2 L241.3,856.2 L242.2,856.7 L243.0,857.7 L243.9,858.5 L244.6,859.4 L245.3,859.3 L246.0,858.4 L247.9,855.6 L248.8,854.3 L249.3,853.8 L249.9,853.6 L251.0,854.1 L251.8,854.7 L252.7,854.0 L253.8,852.8 L254.9,851.6 L256.1,851.4 L257.2,852.5 L258.4,853.7 L259.4,854.0 L260.4,853.2 L261.3,852.8 L262.0,852.7 L263.9,862.9 L264.8,871.0 L265.8,864.5 L267.0,854.3 L267.6,852.4 L268.2,851.8 L269.2,851.3 L271.0,852.3 L271.7,852.7 L272.4,853.1 L273.3,853.0 L274.2,851.9 L275.2,850.7 L276.2,849.4 L277.3,849.8 L278.4,851.0 L279.5,852.2 L280.6,851.8 L281.7,850.0 L282.8,848.3 L283.9,847.7 L285.0,848.9 L286.0,850.0 L287.0,851.2 L287.9,850.5 L288.9,849.7 L289.8,849.1 L290.7,848.8 L291.6,849.8 L292.6,850.8 L293.5,851.8 L294.5,852.2 L295.4,851.9 L296.5,851.6 L297.5,851.2 L298.6,851.9 L299.8,852.6 L301.0,853.3 L301.9,852.7 L302.8,852.1 L303.8,851.5 L304.9,851.3 L306.0,852.1 L307.1,853.0 L308.2,853.5 L309.4,852.6 L310.5,851.6 L311.7,851.0 L312.9,852.1 L314.0,853.3 L315.2,854.1 L316.3,852.7 L317.4,851.4 L318.4,850.2 L319.4,851.0 L320.4,851.9 L321.3,852.8 L322.1,853.5 L322.8,852.9 L323.5,852.5 L325.6,851.4 L326.8,852.8 L327.4,854.1 L327.9,855.7 L328.5,858.0 L329.7,863.7 L330.8,870.3 L332.0,874.0 L332.9,873.6 L333.9,872.2 L335.0,870.2 L336.0,868.7 L337.0,867.7 L338.0,870.7 L338.8,876.3 L339.8,882.1 L341.0,886.1 L341.9,886.1 L342.8,884.5 L343.8,880.1 L344.8,874.8 L346.0,869.7 L347.2,867.1 L348.5,867.3 L349.4,868.6 L350.4,870.1 L351.4,871.0 L352.5,872.2 L353.6,874.1 L354.8,878.3 L355.9,882.4 L356.9,886.2 L358.0,887.3 L358.9,887.7 L359.8,887.6 L361.1,887.4 L362.2,887.3 L363.1,886.2 L364.0,884.7 L364.9,881.3 L366.0,878.6 L367.0,876.8 L368.1,876.5 L369.1,877.8 L370.2,879.3 L371.3,880.3 L372.4,879.8 L373.5,879.6 L374.6,879.9 L375.6,882.6 L376.7,885.5 L377.8,888.6 L378.9,889.7 L379.9,890.3 L381.0,890.9 L382.1,893.0 L383.2,895.9 L384.3,898.6 L385.5,900.7 L386.5,902.5 L387.6,904.6 L388.5,907.2 L389.7,911.5 L390.7,915.8 L391.6,920.5 L392.5,925.2 L393.5,930.0 L394.5,934.7 L395.6,939.5 L396.6,944.3 L397.6,949.5 L398.5,955.0 L399.7,965.6 L400.7,976.9 L402.2,987.5 L403.1,990.9 L404.2,994.2 L405.4,997.2 L406.7,1000.2 L408.0,1003.1 L409.1,1006.1 L410.2,1009.2 L411.0,1012.5 L412.5,1026.7 L413.5,1042.5 L414.3,1049.4 L415.2,1056.7 L416.2,1064.3 L417.3,1072.1 L418.5,1080.0 L419.4,1085.7 L420.4,1091.4 L421.4,1097.2 L422.5,1103.1 L423.6,1109.3 L424.8,1115.7 L426.0,1122.5 L426.9,1127.6 L427.9,1133.2 L429.0,1139.1 L430.1,1145.2 L431.2,1151.2 L432.2,1157.2 L433.3,1163.0 L434.3,1168.4 L435.2,1173.3 L436.0,1177.5 L437.3,1184.0 L438.4,1188.7 L439.3,1192.4 L440.2,1195.9 L441.0,1200.0 L442.3,1208.1 L443.4,1216.6 L444.8,1225.0 L445.7,1229.2 L446.7,1233.3 L447.8,1237.5 L448.9,1241.7 L450.0,1245.8 L451.0,1250.0 L452.1,1255.0 L453.1,1260.0 L454.1,1265.0 L455.0,1270.0 L456.0,1275.0 L457.0,1280.0 L457.9,1284.9 L458.9,1289.8 L459.9,1294.8 L461.0,1300.0 L462.0,1304.4 L463.0,1309.0 L464.0,1313.6 L465.1,1318.2 L466.2,1322.9 L467.2,1327.5 L468.3,1332.1 L469.3,1336.6 L470.3,1341.1 L471.3,1345.6 L472.4,1350.3 L473.5,1355.0 L474.5,1359.2 L475.6,1363.5 L476.6,1367.9 L477.7,1372.4 L478.8,1376.7 L479.9,1381.0 L481.0,1385.0 L482.1,1388.8 L483.1,1392.5 L484.2,1396.1 L485.3,1399.5 L486.4,1403.0 L487.4,1406.5 L488.5,1410.0 L489.5,1413.6 L490.6,1417.1 L491.6,1420.7 L492.6,1424.3 L493.7,1427.9 L494.8,1431.4 L496.0,1435.0 L496.9,1437.6 L497.8,1440.3 L498.8,1443.0 L499.8,1445.8 L500.8,1448.5 L501.9,1451.2 L502.9,1453.7 L504.0,1456.0 L505.0,1458.2 L506.0,1460.0 L507.0,1461.6 L508.0,1463.0 L509.0,1464.3 L510.0,1465.3 L511.0,1466.2 L512.0,1467.0 L513.0,1467.6 L514.0,1468.1 L515.0,1468.5 L516.0,1468.8 L517.0,1468.9 L518.0,1468.9 L519.0,1468.9 L520.0,1468.6 L521.0,1468.3 L522.0,1467.8 L523.0,1467.1 L524.0,1466.2 L525.0,1465.1 L526.0,1463.8 L527.0,1462.2 L528.0,1460.3 L529.0,1458.3 L530.0,1456.0 L531.0,1453.6 L532.0,1451.0 L533.0,1448.4 L534.0,1445.6 L535.0,1442.8 L536.0,1440.0 L537.0,1437.1 L538.0,1434.1 L539.1,1430.9 L540.1,1427.6 L541.2,1424.3 L542.2,1420.9 L543.2,1417.5 L544.2,1414.1 L545.1,1410.8 L546.0,1407.5 L547.2,1402.9 L548.3,1398.4 L549.4,1394.0 L550.4,1389.5 L551.4,1384.8 L552.5,1380.0 L553.5,1375.0 L554.6,1369.7 L555.6,1364.2 L556.7,1358.5 L557.8,1352.7 L558.9,1346.8 L559.9,1340.9 L561.0,1335.0 L562.1,1329.1 L563.1,1323.2 L564.2,1317.2 L565.3,1311.2 L566.4,1305.1 L567.4,1298.9 L568.5,1292.5 L569.6,1286.0 L570.6,1279.2 L571.7,1272.4 L572.8,1265.4 L573.9,1258.5 L574.9,1251.7 L576.0,1245.0 L577.1,1238.2 L578.3,1231.3 L579.5,1224.4 L580.6,1217.6 L581.7,1211.1 L582.7,1205.2 L583.5,1200.0 L584.6,1188.3 L586.0,1177.5 L586.7,1174.3 L587.5,1170.7 L588.4,1166.8 L589.5,1162.7 L590.5,1158.6 L591.6,1154.5 L592.8,1150.4 L593.9,1146.6 L595.0,1143.1 L596.0,1140.0 L597.0,1137.3 L597.9,1135.0 L598.8,1132.9 L599.8,1131.1 L600.7,1129.4 L601.6,1127.7 L602.6,1126.0 L603.7,1124.2 L604.8,1122.2 L606.0,1120.0 L606.9,1118.4 L607.8,1116.7 L608.7,1115.0 L609.7,1113.3 L610.7,1111.5 L611.8,1109.7 L612.8,1107.8 L613.9,1105.9 L614.9,1104.0 L616.0,1102.1 L617.0,1100.2 L618.1,1098.3 L619.1,1096.3 L620.1,1094.4 L621.0,1092.5 L622.1,1090.1 L623.2,1087.7 L624.2,1085.4 L625.3,1083.0 L626.3,1080.6 L627.2,1078.1 L628.2,1075.7 L629.2,1073.1 L630.3,1070.6 L631.3,1068.0 L632.4,1065.3 L633.5,1062.5 L634.4,1060.2 L635.4,1057.9 L636.3,1055.5 L637.3,1053.0 L638.3,1050.6 L639.3,1048.0 L640.3,1045.5 L641.4,1042.9 L642.4,1040.4 L643.4,1037.8 L644.4,1035.2 L645.5,1032.6 L646.5,1030.1 L647.5,1027.5 L648.5,1025.0 L649.5,1022.5 L650.5,1019.9 L651.5,1017.3 L652.5,1014.7 L653.5,1012.1 L654.5,1009.4 L655.5,1006.8 L656.5,1004.2 L657.5,1001.6 L658.5,999.1 L659.5,996.6 L660.5,994.2 L661.5,991.9 L662.5,989.7 L663.5,987.5 L664.6,985.3 L665.7,983.1 L666.8,981.0 L667.9,978.9 L669.1,976.9 L670.2,974.9 L671.3,973.0 L672.4,971.2 L673.5,969.4 L674.5,967.8 L675.5,966.2 L676.4,964.7 L677.2,963.3 L678.0,962.0 L679.5,959.5 L680.6,957.7 L681.5,956.3 L682.3,955.1 L683.1,954.0 L684.0,952.5 L684.8,951.0 L685.4,949.7 L686.0,948.3 L686.8,946.7 L688.1,944.7 L690.0,942.0 L690.7,941.1 L691.4,940.2 L692.2,939.2 L693.0,938.1 L693.9,937.0 L694.8,935.8 L695.7,934.6 L696.7,933.4 L697.7,932.1 L698.7,930.8 L699.8,929.5 L700.9,928.2 L702.0,926.9 L703.1,925.5 L704.2,924.2 L705.4,922.9 L706.5,921.6 L707.6,920.3 L708.7,919.1 L709.8,917.9 L710.9,916.7 L712.0,915.6 L712.9,914.6 L713.9,913.7 L714.9,912.7 L715.9,911.8 L716.9,910.8 L717.9,909.9 L718.9,908.9 L720.0,908.0 L721.0,907.1 L722.0,906.1 L723.1,905.2 L724.1,904.3 L725.1,903.4 L726.2,902.6 L727.2,901.7 L728.2,900.8 L729.3,900.0 L730.3,899.2 L731.3,898.3 L732.3,897.5 L733.2,896.7 L734.2,896.0 L735.2,895.2 L736.1,894.5 L737.0,893.8 L738.1,892.9 L739.2,892.0 L740.3,891.2 L741.4,890.4 L742.4,889.6 L743.4,888.8 L744.5,888.1 L745.5,887.4 L746.5,886.7 L747.5,886.0 L748.4,885.3 L749.4,884.7 L750.4,884.0 L751.3,883.4 L752.3,882.8 L753.2,882.2 L754.2,881.6 L755.1,881.1 L756.1,880.5 L757.0,880.0 L758.1,879.4 L759.2,878.8 L760.3,878.2 L761.4,877.7 L762.5,877.1 L763.6,876.6 L764.6,876.2 L765.7,875.7 L766.7,875.3 L767.8,874.8 L768.8,874.4 L769.8,874.1 L770.8,873.7 L771.7,873.4 L772.7,873.1 L773.6,872.8 L774.5,872.5 L775.7,872.2 L776.9,871.9 L778.0,871.7 L779.1,871.5 L780.2,871.3 L781.2,871.2 L782.2,871.2 L783.2,871.2 L784.2,871.2 L785.1,871.2 L786.1,871.2 L787.0,871.2 L788.1,871.3 L789.2,871.4 L790.3,871.6 L791.3,871.7 L792.3,872.0 L793.3,872.2 L794.3,872.5 L795.2,872.9 L796.1,873.3 L797.0,873.8 L798.2,874.6 L799.2,875.7 L800.2,877.0 L801.2,878.3 L802.2,879.5 L803.3,880.5 L804.5,881.2 L805.4,881.5 L806.3,881.4 L807.2,881.2 L808.2,881.0 L809.2,880.6 L810.3,880.3 L811.3,880.1 L812.4,880.0 L813.5,880.1 L814.6,880.5 L815.8,881.2 L816.7,882.2 L817.8,883.6 L818.9,885.2 L820.1,887.0 L821.3,889.0 L822.4,891.1 L823.6,893.1 L824.7,895.1 L825.8,896.9 L826.9,898.5 L827.8,899.8 L828.7,900.8 L829.5,901.2 L830.9,900.7 L831.6,898.3 L832.2,894.8 L833.0,891.0 L834.5,887.5 L835.2,886.5 L836.0,885.4 L836.9,884.2 L837.8,883.0 L838.8,881.8 L839.8,880.5 L840.8,879.3 L841.9,878.1 L843.0,876.9 L844.1,875.7 L845.2,874.7 L846.3,873.7 L847.4,872.7 L848.5,871.9 L849.5,871.2 L850.5,870.7 L851.6,870.2 L852.6,869.8 L853.7,869.5 L854.8,869.2 L855.9,869.0 L856.9,868.9 L858.0,868.8 L859.0,868.7 L860.1,868.7 L861.0,868.7 L862.0,868.7 L862.9,868.7 L863.7,868.7 L864.5,868.8 L866.0,869.0 L867.2,869.8 L868.2,870.7 L869.1,871.5 L870.0,872.0 L870.9,872.0 L872.0,871.2 L873.0,869.8 L873.9,867.6 L874.8,865.0 L875.7,862.0 L876.7,859.0 L877.8,856.1 L879.2,853.4 L880.8,851.2 L881.5,850.4 L882.3,849.7 L883.1,849.0 L883.9,848.3 L884.7,847.7 L885.6,847.1 L886.4,846.6 L887.4,846.1 L888.3,845.5 L889.3,845.1 L890.4,844.6 L891.5,844.1 L892.7,843.7 L893.9,843.2 L895.2,842.7 L896.5,842.3 L898.0,841.8 L899.5,841.2 L900.3,841.0 L901.1,840.7 L901.9,840.5 L902.7,840.3 L903.5,840.0 L904.4,839.8 L905.2,839.5 L906.1,839.3 L907.0,839.1 L908.0,838.8 L908.9,838.6 L909.8,838.3 L910.8,838.1 L911.8,837.9 L912.7,837.6 L913.7,837.4 L914.8,837.2 L915.8,837.0 L916.8,836.7 L917.9,836.5 L918.9,836.3 L920.0,836.0 L921.1,835.8 L922.1,835.6 L923.2,835.3 L924.4,835.1 L925.5,834.9 L926.6,834.7 L927.7,834.4 L928.9,834.2 L930.0,833.9 L931.2,833.7 L932.3,833.5 L933.5,833.2 L934.6,833.0 L935.8,832.7 L937.0,832.5 L937.9,832.3 L938.8,832.1 L939.6,831.9 L940.5,831.8 L941.4,831.6 L942.3,831.4 L943.2,831.2 L944.2,831.0 L945.1,830.8 L946.0,830.6 L946.9,830.4 L947.9,830.2 L948.8,830.0 L949.7,829.9 L950.7,829.7 L951.6,829.5 L952.6,829.3 L953.6,829.1 L954.5,828.9 L955.5,828.7 L956.5,828.5 L957.5,828.3 L958.4,828.1 L959.4,827.9 L960.4,827.7 L961.4,827.5 L962.4,827.3 L963.5,827.1 L964.5,826.9 L965.5,826.7 L966.5,826.5 L967.6,826.3 L968.6,826.1 L969.6,826.0 L970.7,825.8 L971.7,825.6 L972.8,825.4 L973.9,825.2 L974.9,825.0 L976.0,824.8 L977.1,824.6 L978.2,824.4 L979.2,824.3 L980.3,824.1 L981.4,823.9 L982.5,823.7 L983.6,823.5 L984.8,823.4 L985.9,823.2 L987.0,823.0 L987.9,822.9 L988.9,822.7 L989.8,822.6 L990.8,822.4 L991.8,822.3 L992.8,822.1 L993.8,822.0 L994.8,821.8 L995.9,821.7 L996.9,821.5 L998.0,821.4 L999.1,821.2 L1000.2,821.1 L1001.3,820.9 L1002.4,820.8 L1003.5,820.6 L1004.6,820.5 L1005.7,820.3 L1006.9,820.2 L1008.0,820.0 L1009.1,819.9 L1010.3,819.7 L1011.4,819.6 L1012.6,819.4 L1013.7,819.3 L1014.9,819.2 L1016.0,819.0 L1017.2,818.9 L1018.3,818.7 L1019.5,818.6 L1020.6,818.4 L1021.7,818.3 L1022.9,818.2 L1024.0,818.0 L1025.1,817.9 L1026.2,817.7 L1027.3,817.6 L1028.4,817.5 L1029.4,817.4 L1030.5,817.2 L1031.6,817.1 L1032.6,817.0 L1033.6,816.8 L1034.6,816.7 L1035.6,816.6 L1036.6,816.5 L1037.6,816.4 L1038.5,816.3 L1039.5,816.2 L1040.4,816.1 L1041.3,815.9 L1042.1,815.8 L1043.0,815.7 L1043.8,815.7 L1044.6,815.6 L1045.4,815.5 L1046.1,815.4 L1046.9,815.3 L1047.6,815.2 L1048.2,815.1 L1048.9,815.1 L1049.5,815.0 L1052.3,814.7 L1054.5,814.5 L1056.1,814.3 L1057.4,814.2 L1058.3,814.1 L1058.9,814.1 L1059.3,814.2 L1059.7,814.2 L1060.0,814.3 L1060.5,814.4 L1061.1,814.4 L1062.0,814.5 L1063.0,814.6 L1064.0,814.8 L1065.0,815.0 L1066.0,815.3 L1067.0,815.6 L1067.9,815.9 L1068.9,816.1 L1070.0,816.3 L1071.0,816.5 L1072.1,816.5 L1073.3,816.4 L1074.5,816.2 L1075.4,816.0 L1076.2,815.7 L1077.1,815.4 L1078.0,815.0 L1078.8,814.5 L1079.7,814.0 L1080.6,813.5 L1081.5,812.9 L1082.5,812.4 L1083.5,811.8 L1084.5,811.2 L1085.6,810.6 L1086.7,810.0 L1088.0,809.5 L1089.2,809.0 L1090.6,808.5 L1092.0,808.0 L1092.8,807.8 L1093.6,807.5 L1094.4,807.3 L1095.3,807.1 L1096.2,806.8 L1097.1,806.6 L1098.0,806.4 L1099.0,806.1 L1099.9,805.9 L1100.9,805.7 L1101.9,805.5 L1102.9,805.2 L1103.9,805.0 L1104.9,804.8 L1106.0,804.6 L1107.0,804.3 L1108.1,804.1 L1109.1,803.9 L1110.2,803.7 L1111.3,803.5 L1112.4,803.3 L1113.5,803.1 L1114.6,802.9 L1115.7,802.7 L1116.8,802.5 L1117.9,802.3 L1119.0,802.1 L1120.1,801.9 L1121.2,801.8 L1122.3,801.6 L1123.4,801.4 L1124.5,801.2 L1125.5,801.1 L1126.4,801.0 L1127.4,800.8 L1128.5,800.7 L1129.5,800.6 L1130.5,800.5 L1131.6,800.4 L1132.7,800.3 L1133.8,800.2 L1134.9,800.1 L1136.0,800.0 L1137.1,799.9 L1138.2,799.8 L1139.3,799.7 L1140.4,799.6 L1141.6,799.5 L1142.7,799.4 L1143.8,799.3 L1144.9,799.2 L1146.0,799.1 L1147.1,799.0 L1148.2,799.0 L1149.2,798.9 L1150.3,798.8 L1151.3,798.7 L1152.3,798.6 L1153.4,798.5 L1154.3,798.4 L1155.3,798.3 L1156.2,798.2 L1157.1,798.1 L1158.0,798.0 L1158.9,797.9 L1159.7,797.8 L1160.5,797.7 L1161.3,797.6 L1162.0,797.5 L1163.7,797.2 L1165.2,796.8 L1166.5,796.4 L1167.7,796.0 L1168.9,795.6 L1169.9,795.2 L1170.8,794.8 L1171.6,794.4 L1172.4,794.0 L1173.2,793.6 L1173.9,793.3 L1174.7,793.0 L1175.4,792.8 L1176.2,792.6 L1177.0,792.5 L1178.2,792.5 L1179.3,792.7 L1180.3,793.0 L1181.3,793.4 L1182.2,793.8 L1183.2,794.3 L1184.1,794.8 L1185.0,795.2 L1186.0,795.5 L1187.0,795.8 L1187.9,795.9 L1188.7,796.0 L1189.5,796.1 L1190.3,796.2 L1191.1,796.3 L1192.0,796.3 L1192.9,796.3 L1194.0,796.2 L1195.1,796.0 L1196.5,795.8 L1198.0,795.5 L1198.7,795.3 L1199.5,795.1 L1200.2,794.9 L1200.9,794.7 L1201.7,794.4 L1202.5,794.1 L1203.3,793.8 L1204.1,793.5 L1204.9,793.2 L1205.8,792.8 L1206.7,792.5 L1207.6,792.1 L1208.5,791.8 L1209.5,791.4 L1210.5,791.1 L1211.6,790.7 L1212.7,790.4 L1213.8,790.0 L1215.0,789.7 L1216.2,789.4 L1217.4,789.1 L1218.7,788.8 L1220.1,788.5 L1221.5,788.2 L1223.0,788.0 L1223.8,787.9 L1224.5,787.8 L1225.3,787.7 L1226.1,787.6 L1226.9,787.5 L1227.8,787.4 L1228.6,787.3 L1229.5,787.2 L1230.3,787.1 L1231.2,787.0 L1232.1,787.0 L1233.0,786.9 L1233.9,786.8 L1234.8,786.7 L1235.8,786.6 L1236.7,786.6 L1237.7,786.5 L1238.6,786.4 L1239.6,786.4 L1240.6,786.3 L1241.6,786.2 L1242.6,786.2 L1243.6,786.1 L1244.6,786.0 L1245.7,786.0 L1246.7,785.9 L1247.7,785.9 L1248.8,785.8 L1249.8,785.7 L1250.9,785.7 L1252.0,785.6 L1253.0,785.6 L1254.1,785.5 L1255.2,785.5 L1256.3,785.4 L1257.4,785.3 L1258.5,785.3 L1259.6,785.2 L1260.7,785.2 L1261.8,785.1 L1262.9,785.1 L1264.0,785.0 L1265.1,784.9 L1266.3,784.9 L1267.4,784.8 L1268.5,784.8 L1269.6,784.7 L1270.8,784.6 L1271.9,784.6 L1273.0,784.5 L1273.9,784.4 L1274.8,784.4 L1275.8,784.3 L1276.7,784.3 L1277.7,784.2 L1278.7,784.2 L1279.6,784.1 L1280.6,784.1 L1281.6,784.0 L1282.6,784.0 L1283.7,783.9 L1284.7,783.9 L1285.7,783.8 L1286.8,783.8 L1287.8,783.8 L1288.9,783.7 L1289.9,783.7 L1291.0,783.6 L1292.0,783.6 L1293.1,783.5 L1294.2,783.5 L1295.3,783.4 L1296.4,783.4 L1297.4,783.3 L1298.5,783.3 L1299.6,783.2 L1300.7,783.2 L1301.8,783.2 L1302.9,783.1 L1303.9,783.1 L1305.0,783.0 L1306.1,783.0 L1307.2,782.9 L1308.3,782.9 L1309.3,782.8 L1310.4,782.8 L1311.5,782.7 L1312.6,782.7 L1313.6,782.6 L1314.7,782.6 L1315.7,782.5 L1316.7,782.5 L1317.8,782.4 L1318.8,782.4 L1319.8,782.3 L1320.8,782.3 L1321.8,782.2 L1322.8,782.1 L1323.8,782.1 L1324.8,782.0 L1325.8,782.0 L1326.7,781.9 L1327.6,781.9 L1328.6,781.8 L1329.5,781.7 L1330.4,781.7 L1331.3,781.6 L1332.1,781.5 L1333.0,781.3 L1333.9,781.1 L1334.7,781.2 L1335.5,781.3 L1336.8,781.6 L1338.1,781.1 L1339.4,780.4 L1340.7,779.7 L1341.9,780.3 L1343.1,780.8 L1344.3,781.0 L1345.5,780.2 L1346.6,779.5 L1347.8,779.0 L1348.9,779.4 L1350.0,779.8 L1351.0,780.2 L1352.1,779.5 L1353.1,778.8 L1354.1,778.2 L1355.1,778.2 L1356.1,778.7 L1357.1,779.2 L1358.0,779.6 L1359.0,778.9 L1359.9,778.2 L1360.8,777.6 L1361.7,777.2 L1362.7,777.4 L1363.5,777.7 L1364.4,777.9 L1365.3,777.8 L1366.2,777.1 L1367.0,776.5 L1367.9,775.8 L1368.8,775.5 L1369.6,775.8 L1370.5,776.1 L1371.3,776.4 L1372.2,776.6 L1373.0,776.0 L1374.2,775.1 L1375.4,774.2 L1376.6,774.3 L1377.7,774.4 L1378.8,774.5 L1379.9,773.9 L1380.9,773.3 L1381.9,772.6 L1382.9,772.3 L1383.9,772.4 L1384.9,772.5 L1385.8,772.6 L1386.7,772.0 L1387.7,771.2 L1388.6,770.5 L1389.5,769.8 L1390.4,769.9 L1391.4,769.9 L1392.3,770.0 L1393.2,769.9 L1394.1,769.0 L1395.1,768.2 L1396.0,767.4 L1397.0,767.0 L1398.0,767.1 L1399.0,767.3 L1400.0,767.4 L1401.0,766.5 L1402.0,765.6 L1403.0,764.7 L1404.0,764.3 L1405.0,764.4 L1406.0,764.5 L1407.0,764.6 L1408.0,763.6 L1409.0,762.6 L1410.0,761.6 L1411.0,761.1 L1412.0,761.2 L1413.0,761.3 L1414.0,761.4 L1415.0,760.5 L1416.0,759.7 L1417.0,758.8 L1418.0,758.4 L1419.0,758.5 L1420.0,758.6 L1421.0,758.7 L1422.0,757.8 L1423.0,756.9 L1424.0,756.0 L1425.0,755.6 L1426.0,755.7 L1427.0,755.7 L1428.0,755.8 L1429.0,755.1 L1430.0,754.4 L1431.0,753.7 L1432.0,753.3 L1433.0,753.4 L1434.0,753.4 L1435.0,753.4 L1436.0,752.5 L1437.0,751.6 L1438.0,750.7 L1439.0,750.3 L1440.0,750.6 L1441.0,750.8 L1442.0,750.8 L1443.0,750.1 L1444.0,749.5 L1445.0,749.0 L1446.0,748.6 L1447.0,748.4 L1448.0,748.1 L1449.0,747.7 L1450.0,747.3 L1451.0,746.9 L1452.0,746.1 L1453.0,745.5 L1454.0,745.7 L1455.0,746.3 L1456.0,747.3 L1457.0,746.2 L1458.0,744.8 L1459.0,743.1 L1460.0,742.6 L1461.0,743.7 L1462.0,744.7 L1463.0,745.8 L1464.0,744.1 L1465.0,742.4 L1466.0,740.7 L1467.0,740.3 L1468.0,741.2 L1469.0,742.1 L1470.0,743.1 L1471.0,741.3 L1472.0,739.5 L1473.0,737.7 L1474.0,737.2 L1475.0,738.0 L1476.0,738.8 L1477.0,739.5 L1478.0,737.6 L1479.0,735.7 L1480.0,733.9 L1481.0,733.5 L1482.0,734.7 L1483.0,735.8 L1484.0,737.0 L1485.0,735.5 L1486.0,734.0 L1487.0,732.5 L1488.0,732.5 L1489.0,734.0 L1490.0,735.5 L1491.0,737.0 L1492.0,735.1 L1493.0,733.2 L1494.0,731.4 L1495.0,730.8 L1496.0,731.5 L1497.0,732.3 L1498.0,733.0 L1499.0,731.2 L1500.0,729.3 L1501.0,727.4 L1502.1,727.3 L1503.1,728.8 L1504.2,730.3 L1505.2,731.1 L1506.3,729.1 L1507.3,727.1 L1508.4,725.1 L1509.4,725.8 L1510.4,726.8 L1511.5,727.8 L1512.5,727.6 L1513.5,726.3 L1514.6,725.0 L1515.6,723.8 L1516.5,724.6 L1517.5,725.4 L1518.5,726.2 L1519.4,725.9 L1520.3,724.4 L1521.3,722.9 L1522.1,721.4 L1523.0,721.3 L1524.2,722.5 L1525.5,723.7 L1526.7,722.9 L1527.9,721.2 L1529.1,719.9 L1530.3,720.2 L1531.4,720.7 L1532.5,720.9 L1533.6,720.5 L1534.6,720.1 L1535.6,719.4 L1536.5,717.9 L1537.4,717.7 L1538.3,718.1 L1539.1,719.0 L1539.8,720.4 L1540.5,720.2 L1542.6,716.0 L1543.7,714.2 L1544.3,717.8 L1545.0,723.3 L1546.1,735.0 L1547.1,746.9 L1548.0,746.5 L1548.8,739.8 L1549.5,729.4 L1551.0,721.2 L1551.8,723.0 L1552.7,725.4 L1553.7,728.3 L1554.7,726.0 L1555.9,721.0 L1557.1,716.1 L1558.2,718.3 L1559.4,724.8 L1560.5,731.1 L1561.5,733.0 L1562.5,730.8 L1563.5,728.8 L1564.5,727.0 L1565.5,733.2 L1566.5,739.8 L1567.5,746.3 L1568.5,747.8 L1569.5,743.9 L1570.5,739.9 L1571.5,735.7 L1572.5,739.2 L1573.6,742.7 L1574.6,746.0 L1575.7,745.5 L1576.7,742.7 L1577.7,740.1 L1578.7,739.0 L1579.6,744.4 L1580.5,749.9 L1581.7,757.9 L1582.9,756.1 L1584.0,753.2 L1585.1,752.2 L1586.1,756.4 L1587.1,762.5 L1588.0,767.7 L1589.2,773.3 L1590.2,776.9 L1591.1,781.5 L1592.0,786.9 L1593.0,792.5 L1594.0,798.7 L1595.1,805.6 L1596.1,812.5 L1597.1,819.2 L1598.0,825.0 L1599.3,832.4 L1600.4,838.4 L1601.8,845.0 L1602.7,849.0 L1603.7,853.4 L1604.8,858.0 L1605.9,862.4 L1607.0,866.5 L1608.0,870.0 L1609.0,873.7 L1610.0,877.1 L1610.9,879.9 L1611.9,881.8 L1613.0,882.5 L1614.0,882.2 L1615.0,881.4 L1616.2,880.1 L1617.3,878.2 L1618.5,875.9 L1619.5,873.2 L1620.5,870.0 L1621.6,864.3 L1622.6,857.1 L1623.4,849.4 L1624.4,841.7 L1625.5,835.0 L1626.4,830.8 L1627.4,826.7 L1628.4,822.8 L1629.5,819.1 L1630.6,815.8 L1631.8,812.7 L1633.0,810.0 L1633.9,808.4 L1634.9,807.0 L1636.0,805.9 L1637.1,804.9 L1638.2,804.1 L1639.2,803.3 L1640.3,802.5 L1641.3,801.1 L1642.2,800.3 L1643.0,800.0 L1644.4,800.1 L1645.5,798.8 L1646.4,794.7 L1647.2,790.3 L1648.0,785.8 L1649.1,782.7 L1650.1,783.9 L1651.0,788.9 L1652.0,801.7 L1653.0,809.0 L1654.0,810.3 L1654.7,794.6 L1656.5,778.0 L1657.2,779.2 L1658.0,781.1 L1659.0,783.5 L1660.0,777.9 L1661.1,771.8 L1662.2,765.5 L1663.4,766.2 L1664.5,769.4 L1665.7,772.7 L1666.9,770.3 L1668.0,766.3 L1669.0,762.7 L1670.1,762.4 L1671.1,765.2 L1672.2,768.0 L1673.3,769.2 L1674.3,765.3 L1675.4,761.4 L1676.5,757.7 L1677.5,759.9 L1678.5,762.2 L1679.5,764.6 L1680.5,764.6 L1681.6,762.2 L1682.7,760.1 L1683.8,759.9 L1684.8,765.0 L1685.8,770.0 L1686.8,775.1 L1687.8,774.5 L1688.7,772.6 L1689.6,770.8 L1690.5,769.0 L1691.7,773.9 L1692.7,778.4 L1693.7,782.7 L1694.7,782.9 L1695.7,781.4 L1696.8,780.4 L1698.0,782.5 L1698.9,786.3 L1699.9,789.9 L1701.0,793.2 L1702.1,793.9 L1703.2,795.3 L1704.4,797.5 L1705.5,800.0 L1706.5,802.3 L1707.5,804.6 L1708.3,806.7 L1709.0,808.3 L1710.5,814.9 L1711.5,819.5 L1712.3,821.0 L1713.2,822.5 L1714.2,823.9 L1715.3,825.1 L1716.5,825.3 L1717.8,825.7 L1719.0,826.8 L1719.9,828.3 L1720.8,830.0 L1721.8,831.9 L1722.8,833.2 L1723.8,834.4 L1724.9,835.4 L1725.9,836.7 L1727.0,838.3 L1728.0,839.7 L1729.0,840.6 L1730.0,840.4 L1731.1,839.9 L1732.2,839.2 L1733.4,838.8 L1734.5,838.3 L1735.5,837.7 L1736.6,836.6 L1737.5,835.1 L1738.3,833.6 L1739.0,832.0 L1740.4,823.1 L1741.5,812.5 L1742.3,809.7 L1743.3,806.7 L1744.4,802.9 L1745.5,799.1 L1746.7,795.5 L1747.9,793.0 L1749.0,790.4 L1750.1,787.5 L1751.2,783.1 L1752.3,778.7 L1753.4,774.4 L1754.4,771.8 L1755.5,769.8 L1756.5,768.5 L1757.6,767.1 L1758.7,766.0 L1759.7,765.6 L1760.7,765.4 L1761.7,765.8 L1762.8,764.9 L1763.8,762.6 L1764.8,758.3 L1765.8,753.1 L1766.8,747.8 L1767.9,743.1 L1769.0,739.8 L1770.0,737.6 L1770.9,735.6 L1771.9,733.1 L1772.9,730.6 L1774.0,728.1 L1775.2,726.3 L1776.5,725.2 L1777.4,724.5 L1778.3,723.4 L1779.3,721.5 L1780.3,719.5 L1781.4,717.5 L1782.4,716.8 L1783.5,716.4 L1784.6,716.0 L1785.8,714.7 L1786.9,713.1 L1787.9,711.6 L1789.0,710.8 L1790.0,710.6 L1791.1,710.5 L1792.1,710.5 L1793.2,709.6 L1794.2,708.8 L1795.2,708.0 L1796.3,708.1 L1797.3,708.3 L1798.4,708.6 L1799.4,708.5 L1800.5,707.9 L1801.5,707.3 L1802.5,706.6 L1803.6,706.4 L1804.6,706.2 L1805.7,705.9 L1806.7,705.0 L1807.8,703.9 L1808.8,702.8 L1809.8,702.1 L1810.9,702.1 L1811.9,702.3 L1813.0,702.5 L1814.0,701.9 L1815.1,701.4 L1816.1,701.0 L1817.2,701.4 L1818.4,702.2 L1819.5,703.1 L1820.6,703.6 L1821.6,703.9 L1822.7,704.2 L1823.7,704.7 L1824.7,705.8 L1825.6,706.9 L1826.5,708.0 L1827.8,709.3 L1828.8,710.5 L1829.7,711.9 L1830.5,713.3 L1831.5,715.5 L1832.6,717.7 L1834.0,719.7 L1834.8,719.9 L1835.6,720.0 L1836.6,720.0 L1837.5,720.1 L1838.5,721.1 L1839.6,722.1 L1840.6,723.1 L1841.7,723.3 L1842.8,723.2 L1843.9,722.9 L1845.0,723.2 L1846.0,724.1 L1847.1,724.8 L1848.1,725.5 L1849.0,725.1 L1850.1,724.5 L1851.2,723.8 L1852.2,724.0 L1853.2,724.5 L1854.1,725.0 L1855.1,725.2 L1856.1,724.1 L1857.1,723.0 L1858.1,721.9 L1859.2,721.8 L1860.3,722.3 L1861.5,723.1 L1862.4,723.3 L1863.3,722.8 L1864.3,722.4 L1865.3,722.0 L1866.4,722.5 L1867.4,723.3 L1868.5,724.1 L1869.6,724.4 L1870.6,724.1 L1871.7,723.9 L1872.8,724.0 L1873.9,724.8 L1874.9,725.7 L1876.0,726.6 L1877.0,726.6 L1878.0,726.6 L1879.0,726.8 L1880.1,727.7 L1881.1,729.3 L1882.2,731.1 L1883.2,732.8 L1884.2,734.0 L1885.2,735.3 L1886.2,736.5 L1887.2,738.4 L1888.2,740.5 L1889.2,742.5 L1890.2,744.1 L1891.1,744.7 L1892.1,745.1 L1893.0,745.2 L1894.0,745.7 L1895.1,746.4 L1896.2,746.7 L1897.4,746.3 L1898.5,744.7 L1899.7,742.9 L1900.8,741.5 L1901.9,741.1 L1903.0,740.7 L1904.0,740.2 L1905.0,738.7 L1906.0,737.4 L1906.9,736.3 L1907.8,735.9 L1909.1,736.8 L1910.2,738.0 L1911.2,739.1 L1912.0,739.7 L1912.9,740.5 L1913.9,741.6 L1915.0,743.3 L1915.9,745.3 L1916.9,747.7 L1917.9,750.4 L1918.9,752.5 L1920.0,754.6 L1921.0,756.6 L1922.1,759.1 L1923.1,761.8 L1924.1,764.1 L1925.0,766.1 L1926.2,767.2 L1927.3,768.0 L1928.4,768.5 L1929.5,769.6 L1930.5,770.3 L1931.6,770.6 L1932.8,769.5 L1933.8,767.5 L1934.8,764.9 L1935.8,762.2 L1936.8,760.0 L1937.9,757.8 L1939.0,755.7 L1940.2,752.9 L1941.5,750.5 L1942.4,749.1 L1943.4,748.6 L1944.4,748.4 L1945.4,748.2 L1946.5,747.6 L1947.5,746.5 L1948.6,745.3 L1949.7,744.5 L1950.8,744.4 L1951.9,744.4 L1953.0,744.3 L1954.0,743.2 L1955.0,742.0 L1956.0,740.8 L1957.1,740.2 L1958.1,740.0 L1959.1,739.7 L1960.1,739.4 L1961.1,738.4 L1962.1,737.3 L1963.1,736.3 L1964.1,735.8 L1965.1,735.6 L1966.0,735.4 L1967.1,735.1 L1968.2,733.8 L1969.4,732.6 L1970.5,731.5 L1971.5,731.6 L1972.6,731.6 L1973.6,731.6 L1974.6,730.6 L1975.6,729.1 L1976.5,727.3 L1977.7,724.4 L1978.9,721.9 L1979.9,718.9 L1980.9,715.8 L1981.9,711.6 L1983.0,707.7 L1984.0,704.2 L1985.0,701.8 L1986.1,700.2 L1987.1,698.8 L1988.1,697.3 L1989.2,694.9 L1990.3,692.1 L1991.5,689.1 L1992.4,687.7 L1993.4,686.3 L1994.4,684.7 L1995.4,682.6 L1996.5,679.7 L1997.6,676.7 L1998.6,673.8 L1999.6,671.9 L2000.6,669.9 L2001.5,667.9 L2002.7,664.4 L2003.8,660.6 L2004.8,656.8 L2005.7,653.1 L2006.7,649.8 L2007.8,646.4 L2009.0,643.0 L2009.9,639.8 L2010.8,636.3 L2011.8,632.7 L2012.8,629.4 L2013.8,626.9 L2014.9,624.6 L2015.9,622.4 L2017.0,619.0 L2018.0,615.8 L2019.0,612.9 L2020.0,611.1 L2021.0,610.4 L2021.9,609.9 L2022.9,609.7 L2023.8,608.5 L2024.8,607.3 L2025.8,606.1 L2026.8,605.2 L2027.9,604.9 L2029.0,604.4 L2030.0,604.0 L2030.9,602.4 L2031.9,600.7 L2032.9,598.9 L2034.0,597.8 L2035.0,597.5 L2036.1,597.3 L2037.1,597.0 L2038.2,595.5 L2039.3,594.2 L2040.4,593.1 L2041.5,593.3 L2042.5,593.8 L2043.6,594.7 L2044.7,595.1 L2045.9,595.2 L2047.0,595.5 L2048.2,596.6 L2049.3,598.2 L2050.5,599.7 L2051.5,600.5 L2052.6,600.4 L2053.5,600.1 L2054.4,599.6 L2055.2,599.6 L2056.7,597.8 L2057.8,593.9 L2058.7,588.4 L2059.5,583.2 L2060.4,579.7 L2061.5,579.0 L2062.5,582.6 L2063.6,588.7 L2064.7,596.3 L2065.9,603.4 L2067.0,609.9 L2068.2,615.3 L2069.3,620.1 L2070.2,622.6 L2071.5,621.0 L2072.6,614.6 L2073.6,605.1 L2074.6,594.7 L2075.6,585.3 L2076.5,579.3 L2077.5,574.7 L2078.2,571.4 L2079.0,568.9 L2080.0,566.2 L2081.5,563.5 L2082.2,562.3 L2083.0,561.6 L2083.9,561.2 L2084.7,560.9 L2085.7,560.7 L2086.7,559.9 L2087.7,559.0 L2088.8,558.1 L2090.0,557.8 L2091.3,558.4 L2092.6,559.1 L2094.0,559.1 L2094.8,558.9 L2095.7,558.7 L2096.6,558.9 L2097.6,560.2 L2098.6,561.6 L2099.6,563.1 L2100.7,563.7 L2101.8,563.8 L2102.9,563.9 L2104.0,564.6 L2105.1,566.3 L2106.2,568.0 L2107.3,569.2 L2108.4,569.5 L2109.6,569.8 L2110.6,570.1 L2111.7,571.3 L2112.7,572.3 L2113.7,573.3 L2114.7,573.5 L2115.6,573.2 L2116.5,572.9 L2117.7,572.6 L2118.9,573.2 L2120.0,573.7 L2121.0,573.9 L2122.1,573.0 L2123.0,572.0 L2124.0,571.0 L2124.9,570.2 L2125.9,569.9 L2126.8,569.7 L2127.7,569.5 L2128.6,568.9 L2129.6,568.3 L2130.5,567.8 L2131.5,567.5 L2132.5,568.2 L2133.5,569.0 L2134.5,570.0 L2135.4,570.5 L2136.4,570.3 L2137.4,570.2 L2138.4,570.1 L2139.3,571.4 L2140.3,572.8 L2141.3,574.3 L2142.3,575.3 L2143.3,575.5 L2144.4,575.5 L2145.4,575.4 L2146.5,576.0 L2147.5,576.6 L2148.5,577.0 L2149.6,576.8 L2150.7,576.2 L2151.8,575.4 L2153.0,575.1 L2154.2,575.4 L2155.3,575.7 L2156.4,575.4 L2157.6,574.4 L2158.6,573.5 L2159.7,572.9 L2160.7,573.4 L2161.6,574.0 L2162.5,574.7 L2163.3,575.2 L2164.0,575.4 L2165.8,577.9 L2166.9,583.1 L2167.6,589.4 L2168.2,594.6 L2169.0,597.6 L2169.8,597.8 L2170.5,595.5 L2171.3,591.8 L2172.4,587.7 L2174.0,584.3 L2174.7,583.9 L2175.6,583.4 L2176.5,582.9 L2177.5,581.6 L2178.6,579.6 L2179.7,577.5 L2180.8,575.8 L2182.0,575.2 L2183.2,574.6 L2184.3,573.9 L2185.4,572.4 L2186.4,571.1 L2187.4,570.0 L2188.2,569.8 L2189.0,569.9 L2190.5,571.0 L2191.6,572.4 L2192.4,573.9 L2193.2,575.5 L2194.1,576.5 L2195.2,577.2 L2196.1,577.3 L2197.0,576.9 L2197.9,576.2 L2198.8,574.2 L2199.8,572.0 L2200.8,569.8 L2201.9,568.1 L2202.9,567.7 L2204.1,567.7 L2205.2,568.0 L2206.2,567.8 L2207.1,567.9 L2208.1,568.1 L2209.2,569.4 L2210.2,571.3 L2211.3,573.4 L2212.4,575.0 L2213.4,575.7 L2214.6,576.3 L2215.7,577.1 L2216.8,579.2 L2217.9,581.2 L2219.0,583.1 L2220.0,583.5 L2221.0,583.9 L2222.0,584.3 L2223.0,585.2 L2224.1,586.5 L2225.2,587.8 L2226.2,588.9 L2227.3,589.3 L2228.3,589.7 L2229.3,590.0 L2230.3,591.1 L2231.3,592.2 L2232.2,593.3 L2233.1,594.1 L2234.0,594.1 L2235.2,594.1 L2236.2,594.2 L2237.2,595.2 L2238.1,596.4 L2239.0,597.5 L2239.9,598.5 L2240.8,598.7 L2241.8,598.5 L2242.8,598.1 L2244.0,598.0 L2244.9,598.4 L2245.8,598.7 L2246.7,598.9 L2247.7,598.3 L2248.7,597.4 L2249.8,596.3 L2250.8,595.6 L2251.9,595.7 L2252.9,595.7 L2254.0,595.7 L2255.0,594.3 L2256.1,592.8 L2257.1,591.4 L2258.1,590.9 L2259.0,590.9 L2260.1,591.0 L2261.3,590.6 L2262.4,589.2 L2263.4,588.0 L2264.5,586.9 L2265.6,586.5 L2266.6,585.8 L2267.6,585.0 L2268.6,583.8 L2269.6,582.6 L2270.6,581.3 L2271.5,579.6 L2272.6,578.1 L2273.7,576.9 L2274.7,575.9 L2275.7,573.5 L2276.7,570.0 L2277.6,566.0 L2278.6,561.9 L2279.5,561.1 L2280.5,560.8 L2281.5,560.5 L2282.5,557.8 L2283.5,552.6 L2284.4,547.3 L2285.4,542.0 L2286.3,540.3 L2287.3,539.2 L2288.3,538.3 L2289.3,536.3 L2290.4,532.1 L2291.5,528.0 L2292.5,524.8 L2293.4,525.1 L2294.4,525.6 L2295.5,526.4 L2296.5,525.2 L2297.6,522.2 L2298.7,519.2 L2299.7,517.3 L2300.8,519.2 L2301.9,521.1 L2303.0,523.0 L2304.0,520.0 L2305.1,516.7 L2306.1,513.4 L2307.2,513.2 L2308.4,514.5 L2309.5,515.8 L2310.6,515.6 L2311.6,513.9 L2312.7,512.2 L2313.7,511.2 L2314.7,512.8 L2315.6,514.3 L2316.5,515.5 L2317.9,513.4 L2319.1,509.5 L2320.3,505.8 L2321.3,506.1 L2322.3,507.0 L2323.2,507.3 L2324.0,506.8 L2325.4,494.1 L2326.5,480.0 L2327.8,468.6 L2328.6,467.4 L2329.6,467.6 L2330.6,468.4 L2331.7,466.8 L2332.9,463.3 L2334.0,458.6 L2335.0,455.5 L2336.1,453.6 L2337.1,451.2 L2338.2,447.7 L2339.3,440.4 L2340.4,434.0 L2341.5,428.9 L2342.6,430.2 L2343.7,432.8 L2344.8,436.3 L2346.0,435.2 L2347.0,433.5 L2348.1,431.6 L2349.0,431.3 L2350.2,432.1 L2351.3,431.1 L2352.3,428.7 L2353.2,425.4 L2354.0,424.2 L2355.4,431.0 L2356.5,439.5 L2357.9,436.1 L2359.0,430.0" stroke="#f04040"/>
<path d="M176.0,1182.5 L176.5,1182.4 L177.1,1182.4 L177.8,1182.3 L178.5,1182.2 L179.2,1182.1 L180.0,1182.0 L180.8,1181.9 L181.7,1181.8 L182.6,1181.7 L183.6,1181.6 L184.6,1181.5 L185.6,1181.4 L186.6,1181.3 L187.7,1181.1 L188.8,1181.0 L189.9,1180.9 L191.0,1180.8 L192.1,1180.6 L193.3,1180.5 L194.5,1180.4 L195.6,1180.2 L196.8,1180.1 L198.0,1179.9 L199.2,1179.8 L200.4,1179.7 L201.6,1179.5 L202.7,1179.4 L203.9,1179.2 L205.0,1179.1 L206.2,1178.9 L207.3,1178.8 L208.4,1178.7 L209.5,1178.5 L210.5,1178.4 L211.5,1178.3 L212.5,1178.1 L213.5,1178.0 L214.6,1177.9 L215.7,1177.7 L216.8,1177.5 L217.9,1177.4 L219.0,1177.2 L220.1,1177.1 L221.3,1176.9 L222.4,1176.7 L223.5,1176.6 L224.6,1176.4 L225.7,1176.2 L226.8,1176.1 L227.9,1175.9 L229.0,1175.7 L230.0,1175.6 L231.1,1175.6 L232.1,1175.4 L233.2,1175.0 L234.2,1174.4 L235.2,1174.4 L236.2,1174.7 L237.2,1175.2 L238.2,1175.6 L239.2,1174.7 L240.1,1173.6 L241.0,1172.5 L241.9,1172.1 L242.8,1172.7 L243.6,1173.2 L244.4,1173.7 L245.2,1173.9 L246.0,1173.4 L247.5,1172.4 L248.9,1172.0 L250.2,1172.9 L251.5,1173.6 L252.7,1173.1 L253.8,1171.7 L254.9,1170.4 L255.9,1169.8 L256.8,1170.2 L257.7,1170.5 L258.5,1170.9 L259.3,1170.8 L260.1,1169.9 L260.7,1169.2 L261.4,1168.6 L262.0,1168.0 L264.2,1173.5 L264.8,1177.6 L265.3,1176.3 L265.8,1173.3 L268.0,1168.4 L268.6,1167.5 L269.2,1166.5 L269.9,1166.4 L270.6,1167.0 L271.4,1167.6 L272.2,1168.3 L273.0,1169.0 L273.9,1168.0 L274.9,1166.9 L275.9,1165.8 L276.9,1165.4 L278.0,1166.2 L279.2,1167.1 L280.4,1167.3 L281.7,1166.2 L283.1,1165.0 L284.5,1165.7 L286.0,1167.3 L286.8,1168.2 L287.6,1167.7 L288.5,1166.7 L289.4,1165.6 L290.3,1164.4 L291.3,1165.0 L292.3,1166.0 L293.4,1167.0 L294.4,1167.1 L295.5,1165.7 L296.6,1164.4 L297.8,1163.5 L298.9,1164.4 L300.1,1165.2 L301.3,1165.6 L302.5,1164.5 L303.6,1163.4 L304.8,1163.0 L306.0,1164.2 L307.2,1165.4 L308.3,1166.0 L309.5,1164.9 L310.6,1163.9 L311.8,1163.2 L312.9,1163.9 L313.9,1164.5 L315.0,1165.1 L316.0,1164.2 L317.0,1163.4 L318.0,1162.5 L318.9,1162.6 L319.8,1163.6 L320.6,1164.6 L321.4,1165.6 L322.2,1166.1 L322.9,1165.6 L323.5,1165.0 L326.1,1164.9 L327.8,1168.5 L328.7,1171.6 L329.2,1173.8 L329.5,1175.5 L330.1,1176.8 L331.0,1177.3 L331.9,1177.3 L332.9,1178.1 L333.9,1180.4 L334.9,1182.7 L336.0,1185.0 L337.1,1184.7 L338.1,1184.3 L339.1,1183.7 L340.1,1184.1 L341.0,1185.1 L342.2,1185.6 L343.2,1184.7 L344.2,1181.7 L345.2,1178.5 L346.2,1175.6 L347.3,1174.7 L348.5,1175.7 L349.4,1177.0 L350.3,1178.2 L351.2,1178.0 L352.2,1178.1 L353.2,1178.3 L354.3,1180.2 L355.3,1182.8 L356.4,1185.2 L357.5,1186.7 L358.6,1187.0 L359.8,1186.9 L360.7,1186.7 L361.8,1187.2 L362.8,1187.5 L363.9,1187.5 L365.0,1185.9 L366.1,1184.0 L367.3,1182.0 L368.4,1182.0 L369.5,1182.5 L370.5,1183.0 L371.6,1182.5 L372.6,1181.3 L373.5,1180.4 L374.7,1179.8 L375.8,1181.3 L376.9,1183.0 L378.0,1184.8 L379.0,1184.9 L380.0,1185.1 L381.0,1185.5 L381.9,1186.7 L382.7,1188.5 L383.5,1190.1 L384.8,1192.7 L385.7,1194.6 L386.6,1196.7 L387.4,1199.2 L388.5,1202.3 L389.5,1205.1 L390.5,1208.1 L391.6,1211.3 L392.7,1214.7 L393.9,1218.1 L395.0,1221.6 L396.0,1225.0 L397.1,1229.1 L398.1,1233.2 L399.0,1237.5 L400.0,1241.8 L401.1,1245.9 L402.2,1250.0 L403.3,1252.9 L404.4,1255.7 L405.6,1258.5 L406.8,1261.2 L408.0,1264.0 L409.1,1266.8 L410.1,1269.6 L411.0,1272.5 L412.5,1280.4 L413.4,1288.5 L414.8,1297.5 L415.6,1301.9 L416.7,1306.6 L417.8,1311.6 L418.9,1316.6 L420.1,1321.4 L421.2,1325.9 L422.2,1330.0 L423.3,1333.9 L424.4,1337.2 L425.4,1340.2 L426.4,1343.1 L427.4,1346.2 L428.5,1350.0 L429.5,1353.8 L430.6,1357.9 L431.6,1362.3 L432.7,1366.8 L433.8,1371.3 L434.9,1375.8 L436.0,1380.0 L437.1,1384.0 L438.1,1388.0 L439.1,1391.8 L440.2,1395.7 L441.3,1399.5 L442.4,1403.5 L443.5,1407.5 L444.5,1411.1 L445.6,1414.9 L446.7,1418.7 L447.8,1422.5 L448.9,1426.3 L450.0,1430.1 L451.1,1433.9 L452.2,1437.5 L453.3,1441.0 L454.4,1444.5 L455.5,1447.9 L456.5,1451.2 L457.6,1454.6 L458.7,1458.0 L459.8,1461.5 L461.0,1465.0 L461.9,1467.9 L462.9,1470.8 L463.8,1473.7 L464.8,1476.7 L465.8,1479.7 L466.8,1482.7 L467.8,1485.7 L468.8,1488.8 L469.9,1491.9 L471.0,1495.0 L472.0,1497.6 L472.9,1500.3 L473.9,1503.0 L475.0,1505.7 L476.0,1508.5 L477.1,1511.2 L478.2,1514.0 L479.2,1516.8 L480.3,1519.5 L481.4,1522.2 L482.5,1524.9 L483.5,1527.5 L484.5,1530.1 L485.6,1532.7 L486.6,1535.4 L487.7,1538.0 L488.7,1540.6 L489.8,1543.2 L490.8,1545.7 L491.8,1548.2 L492.9,1550.7 L493.9,1553.0 L495.0,1555.3 L496.0,1557.5 L497.1,1559.6 L498.1,1561.8 L499.2,1563.8 L500.4,1565.9 L501.5,1567.9 L502.6,1569.8 L503.6,1571.6 L504.7,1573.3 L505.7,1574.9 L506.7,1576.3 L507.6,1577.6 L508.5,1578.8 L509.8,1580.3 L510.9,1581.3 L511.9,1582.0 L512.9,1582.3 L513.8,1582.5 L514.8,1582.5 L516.0,1582.5 L516.9,1582.5 L517.8,1582.4 L518.8,1582.3 L519.8,1582.1 L520.8,1581.9 L521.9,1581.5 L522.9,1581.0 L524.0,1580.4 L525.0,1579.7 L526.0,1578.8 L527.0,1577.7 L528.0,1576.5 L528.9,1575.2 L529.9,1573.8 L530.8,1572.3 L531.8,1570.6 L532.8,1568.8 L533.8,1566.8 L534.9,1564.7 L536.0,1562.5 L537.0,1560.5 L538.0,1558.4 L539.0,1556.1 L540.1,1553.8 L541.2,1551.4 L542.2,1548.8 L543.3,1546.2 L544.4,1543.6 L545.5,1540.8 L546.5,1538.1 L547.5,1535.3 L548.5,1532.5 L549.6,1529.1 L550.7,1525.5 L551.8,1521.8 L552.8,1518.0 L553.8,1514.2 L554.8,1510.4 L555.8,1506.5 L556.7,1502.6 L557.6,1498.8 L558.5,1495.0 L559.7,1489.6 L560.8,1484.1 L561.9,1478.7 L562.9,1473.2 L563.9,1467.8 L565.0,1462.6 L566.0,1457.5 L567.0,1452.6 L568.0,1448.0 L569.0,1443.5 L569.9,1439.0 L571.0,1434.5 L572.2,1429.9 L573.5,1425.0 L574.4,1422.0 L575.3,1419.0 L576.3,1415.9 L577.3,1412.7 L578.4,1409.5 L579.4,1406.2 L580.5,1403.0 L581.6,1399.8 L582.8,1396.6 L583.9,1393.5 L584.9,1390.5 L586.0,1387.5 L587.0,1384.6 L588.0,1381.8 L588.9,1379.1 L589.9,1376.4 L590.8,1373.7 L591.8,1371.1 L592.8,1368.5 L593.8,1365.8 L594.8,1363.2 L596.0,1360.5 L597.2,1357.8 L598.5,1355.0 L599.3,1353.3 L600.2,1351.6 L601.1,1349.9 L602.0,1348.1 L603.0,1346.4 L603.9,1344.6 L604.9,1342.8 L606.0,1341.1 L607.0,1339.3 L608.0,1337.5 L609.1,1335.7 L610.1,1333.9 L611.2,1332.2 L612.3,1330.4 L613.3,1328.6 L614.4,1326.9 L615.4,1325.1 L616.5,1323.4 L617.5,1321.7 L618.5,1320.0 L619.5,1318.3 L620.5,1316.7 L621.5,1315.0 L622.5,1313.4 L623.5,1311.8 L624.5,1310.2 L625.5,1308.6 L626.5,1307.1 L627.5,1305.5 L628.5,1303.9 L629.5,1302.3 L630.5,1300.7 L631.5,1299.1 L632.5,1297.5 L633.5,1295.9 L634.5,1294.3 L635.5,1292.6 L636.5,1290.9 L637.5,1289.2 L638.5,1287.5 L639.5,1285.7 L640.5,1283.9 L641.5,1282.0 L642.5,1280.1 L643.6,1278.2 L644.6,1276.2 L645.6,1274.2 L646.6,1272.3 L647.6,1270.3 L648.7,1268.3 L649.7,1266.3 L650.7,1264.3 L651.7,1262.4 L652.7,1260.5 L653.7,1258.6 L654.7,1256.8 L655.6,1255.0 L656.6,1253.3 L657.6,1251.6 L658.5,1250.0 L659.6,1248.2 L660.7,1246.4 L661.8,1244.7 L662.9,1243.1 L664.0,1241.5 L665.1,1239.9 L666.2,1238.4 L667.3,1236.9 L668.3,1235.5 L669.4,1234.0 L670.4,1232.7 L671.4,1231.3 L672.4,1230.0 L673.3,1228.7 L674.3,1227.5 L675.1,1226.2 L676.0,1225.0 L677.2,1223.2 L678.4,1221.5 L679.5,1219.9 L680.5,1218.3 L681.5,1216.9 L682.4,1215.5 L683.3,1214.1 L684.2,1212.8 L685.1,1211.4 L686.1,1210.1 L687.0,1208.8 L688.0,1207.3 L689.0,1205.8 L689.9,1204.4 L690.8,1203.1 L691.8,1201.7 L692.7,1200.4 L693.7,1199.0 L694.7,1197.7 L695.8,1196.4 L697.0,1195.0 L697.8,1194.1 L698.7,1193.2 L699.5,1192.3 L700.4,1191.5 L701.3,1190.6 L702.2,1189.7 L703.1,1188.9 L704.0,1188.0 L705.0,1187.1 L706.1,1186.2 L707.2,1185.3 L708.3,1184.3 L709.5,1183.3 L710.7,1182.3 L712.0,1181.2 L712.8,1180.6 L713.7,1179.9 L714.6,1179.2 L715.5,1178.5 L716.4,1177.7 L717.4,1177.0 L718.4,1176.2 L719.4,1175.4 L720.5,1174.6 L721.5,1173.8 L722.6,1173.0 L723.7,1172.2 L724.7,1171.4 L725.8,1170.6 L726.9,1169.8 L728.0,1169.0 L729.0,1168.2 L730.1,1167.4 L731.1,1166.7 L732.2,1165.9 L733.2,1165.2 L734.2,1164.5 L735.1,1163.8 L736.1,1163.1 L737.0,1162.5 L738.1,1161.7 L739.2,1161.0 L740.3,1160.2 L741.4,1159.5 L742.4,1158.8 L743.4,1158.1 L744.5,1157.5 L745.5,1156.8 L746.5,1156.2 L747.5,1155.5 L748.4,1154.9 L749.4,1154.3 L750.4,1153.8 L751.3,1153.2 L752.3,1152.6 L753.2,1152.1 L754.2,1151.5 L755.1,1151.0 L756.1,1150.5 L757.0,1150.0 L758.1,1149.4 L759.2,1148.9 L760.3,1148.3 L761.4,1147.8 L762.5,1147.3 L763.6,1146.8 L764.6,1146.3 L765.7,1145.8 L766.7,1145.4 L767.8,1144.9 L768.8,1144.5 L769.8,1144.2 L770.8,1143.8 L771.7,1143.4 L772.7,1143.1 L773.6,1142.8 L774.5,1142.5 L775.7,1142.1 L776.9,1141.8 L778.0,1141.5 L779.1,1141.3 L780.2,1141.1 L781.2,1140.9 L782.2,1140.8 L783.2,1140.7 L784.2,1140.6 L785.1,1140.5 L786.1,1140.5 L787.0,1140.5 L788.1,1140.5 L789.2,1140.6 L790.3,1140.7 L791.3,1140.8 L792.3,1141.0 L793.3,1141.3 L794.3,1141.5 L795.2,1141.8 L796.1,1142.1 L797.0,1142.5 L798.2,1143.1 L799.3,1144.0 L800.3,1144.9 L801.2,1145.8 L802.2,1146.7 L803.3,1147.4 L804.5,1148.0 L805.4,1148.2 L806.3,1148.2 L807.2,1148.1 L808.1,1148.0 L809.0,1147.8 L810.0,1147.7 L811.1,1147.6 L812.1,1147.8 L813.3,1148.1 L814.5,1148.8 L815.4,1149.4 L816.3,1150.2 L817.3,1151.3 L818.3,1152.4 L819.4,1153.7 L820.5,1155.0 L821.6,1156.3 L822.7,1157.7 L823.8,1159.0 L824.9,1160.2 L825.9,1161.3 L826.9,1162.2 L827.8,1163.0 L828.7,1163.5 L829.5,1163.8 L830.9,1163.5 L832.0,1162.5 L833.0,1160.8 L833.8,1158.8 L834.7,1156.6 L835.7,1154.4 L837.0,1152.5 L837.9,1151.5 L838.8,1150.4 L839.7,1149.3 L840.7,1148.2 L841.7,1147.0 L842.8,1145.9 L843.9,1144.8 L845.0,1143.7 L846.1,1142.7 L847.2,1141.7 L848.4,1140.8 L849.5,1140.0 L850.4,1139.4 L851.4,1138.8 L852.5,1138.3 L853.5,1137.8 L854.6,1137.3 L855.7,1136.9 L856.8,1136.5 L857.9,1136.1 L858.9,1135.8 L860.0,1135.4 L861.0,1135.1 L861.9,1134.9 L862.9,1134.6 L863.7,1134.4 L864.5,1134.2 L865.9,1134.2 L867.1,1134.6 L868.1,1135.1 L869.0,1135.7 L869.9,1136.0 L870.9,1135.9 L872.0,1135.0 L872.9,1133.9 L873.7,1132.4 L874.6,1130.5 L875.5,1128.5 L876.4,1126.3 L877.3,1124.1 L878.4,1121.8 L879.5,1119.8 L880.7,1117.9 L882.0,1116.2 L882.8,1115.4 L883.6,1114.7 L884.4,1114.0 L885.2,1113.3 L886.0,1112.7 L886.8,1112.1 L887.7,1111.5 L888.6,1111.0 L889.5,1110.4 L890.5,1109.9 L891.5,1109.4 L892.7,1108.9 L893.8,1108.4 L895.1,1107.9 L896.5,1107.4 L897.9,1106.8 L899.5,1106.2 L900.3,1106.0 L901.0,1105.7 L901.8,1105.5 L902.6,1105.2 L903.5,1104.9 L904.3,1104.7 L905.2,1104.4 L906.1,1104.2 L906.9,1103.9 L907.9,1103.6 L908.8,1103.4 L909.7,1103.1 L910.7,1102.9 L911.7,1102.6 L912.7,1102.4 L913.7,1102.1 L914.7,1101.9 L915.7,1101.6 L916.7,1101.4 L917.8,1101.1 L918.9,1100.8 L919.9,1100.6 L921.0,1100.3 L922.1,1100.0 L923.2,1099.8 L924.3,1099.5 L925.4,1099.2 L926.6,1098.9 L927.7,1098.7 L928.8,1098.4 L930.0,1098.1 L931.1,1097.8 L932.3,1097.5 L933.5,1097.2 L934.6,1096.9 L935.8,1096.6 L937.0,1096.2 L937.9,1096.0 L938.8,1095.8 L939.6,1095.5 L940.5,1095.3 L941.4,1095.0 L942.3,1094.8 L943.2,1094.5 L944.2,1094.3 L945.1,1094.0 L946.0,1093.7 L946.9,1093.5 L947.9,1093.2 L948.8,1092.9 L949.7,1092.7 L950.7,1092.4 L951.6,1092.1 L952.6,1091.9 L953.6,1091.6 L954.5,1091.3 L955.5,1091.0 L956.5,1090.7 L957.5,1090.5 L958.4,1090.2 L959.4,1089.9 L960.4,1089.6 L961.4,1089.3 L962.4,1089.0 L963.5,1088.8 L964.5,1088.5 L965.5,1088.2 L966.5,1087.9 L967.6,1087.6 L968.6,1087.3 L969.6,1087.0 L970.7,1086.7 L971.7,1086.5 L972.8,1086.2 L973.9,1085.9 L974.9,1085.6 L976.0,1085.3 L977.1,1085.0 L978.2,1084.7 L979.2,1084.5 L980.3,1084.2 L981.4,1083.9 L982.5,1083.6 L983.6,1083.3 L984.8,1083.1 L985.9,1082.8 L987.0,1082.5 L987.9,1082.3 L988.9,1082.1 L989.8,1081.8 L990.8,1081.6 L991.8,1081.4 L992.8,1081.1 L993.8,1080.9 L994.8,1080.6 L995.9,1080.4 L996.9,1080.2 L998.0,1079.9 L999.1,1079.7 L1000.2,1079.4 L1001.3,1079.2 L1002.4,1078.9 L1003.5,1078.7 L1004.6,1078.4 L1005.7,1078.2 L1006.9,1077.9 L1008.0,1077.7 L1009.1,1077.4 L1010.3,1077.2 L1011.4,1076.9 L1012.6,1076.7 L1013.7,1076.4 L1014.9,1076.2 L1016.0,1075.9 L1017.2,1075.7 L1018.3,1075.4 L1019.5,1075.2 L1020.6,1074.9 L1021.7,1074.7 L1022.9,1074.4 L1024.0,1074.2 L1025.1,1074.0 L1026.2,1073.7 L1027.3,1073.5 L1028.4,1073.3 L1029.4,1073.0 L1030.5,1072.8 L1031.6,1072.6 L1032.6,1072.4 L1033.6,1072.1 L1034.6,1071.9 L1035.6,1071.7 L1036.6,1071.5 L1037.6,1071.3 L1038.5,1071.1 L1039.5,1070.9 L1040.4,1070.7 L1041.3,1070.5 L1042.1,1070.3 L1043.0,1070.1 L1043.8,1070.0 L1044.6,1069.8 L1045.4,1069.6 L1046.1,1069.5 L1046.9,1069.3 L1047.6,1069.2 L1048.2,1069.0 L1048.9,1068.9 L1049.5,1068.8 L1052.3,1068.1 L1054.5,1067.6 L1056.1,1067.3 L1057.4,1067.0 L1058.3,1066.7 L1058.9,1066.6 L1059.3,1066.5 L1059.7,1066.4 L1060.0,1066.4 L1060.5,1066.3 L1061.1,1066.3 L1062.0,1066.2 L1063.0,1066.2 L1064.0,1066.3 L1065.0,1066.4 L1066.0,1066.6 L1067.0,1066.8 L1067.9,1067.0 L1068.9,1067.2 L1070.0,1067.4 L1071.0,1067.4 L1072.1,1067.4 L1073.3,1067.3 L1074.5,1067.0 L1075.4,1066.7 L1076.2,1066.4 L1077.1,1066.0 L1078.0,1065.5 L1078.8,1065.0 L1079.7,1064.5 L1080.6,1063.9 L1081.5,1063.3 L1082.5,1062.7 L1083.5,1062.1 L1084.5,1061.5 L1085.6,1060.9 L1086.7,1060.3 L1088.0,1059.7 L1089.2,1059.1 L1090.6,1058.5 L1092.0,1058.0 L1092.8,1057.7 L1093.6,1057.5 L1094.4,1057.2 L1095.3,1056.9 L1096.2,1056.7 L1097.1,1056.4 L1098.0,1056.2 L1099.0,1055.9 L1099.9,1055.7 L1100.9,1055.4 L1101.9,1055.2 L1102.9,1054.9 L1103.9,1054.7 L1104.9,1054.4 L1106.0,1054.2 L1107.0,1053.9 L1108.1,1053.7 L1109.1,1053.4 L1110.2,1053.2 L1111.3,1052.9 L1112.4,1052.7 L1113.5,1052.4 L1114.6,1052.2 L1115.7,1051.9 L1116.8,1051.7 L1117.9,1051.5 L1119.0,1051.2 L1120.1,1051.0 L1121.2,1050.7 L1122.3,1050.5 L1123.4,1050.2 L1124.5,1050.0 L1125.5,1049.8 L1126.4,1049.6 L1127.4,1049.4 L1128.5,1049.2 L1129.5,1049.0 L1130.5,1048.7 L1131.6,1048.5 L1132.7,1048.3 L1133.8,1048.1 L1134.9,1047.9 L1136.0,1047.7 L1137.1,1047.5 L1138.2,1047.3 L1139.3,1047.1 L1140.4,1046.9 L1141.6,1046.7 L1142.7,1046.5 L1143.8,1046.3 L1144.9,1046.1 L1146.0,1045.9 L1147.1,1045.6 L1148.2,1045.4 L1149.2,1045.2 L1150.3,1045.0 L1151.3,1044.8 L1152.3,1044.6 L1153.4,1044.4 L1154.3,1044.2 L1155.3,1044.0 L1156.2,1043.8 L1157.1,1043.7 L1158.0,1043.5 L1158.9,1043.3 L1159.7,1043.1 L1160.5,1042.9 L1161.3,1042.7 L1162.0,1042.5 L1163.7,1042.0 L1165.2,1041.5 L1166.5,1041.0 L1167.7,1040.4 L1168.9,1039.9 L1169.9,1039.3 L1170.8,1038.8 L1171.6,1038.3 L1172.4,1037.8 L1173.2,1037.4 L1173.9,1037.0 L1174.7,1036.6 L1175.4,1036.4 L1176.2,1036.1 L1177.0,1036.0 L1178.2,1036.0 L1179.3,1036.2 L1180.3,1036.5 L1181.3,1037.0 L1182.2,1037.5 L1183.2,1038.1 L1184.1,1038.6 L1185.0,1039.1 L1186.0,1039.4 L1187.0,1039.5 L1187.9,1039.5 L1188.7,1039.4 L1189.5,1039.2 L1190.3,1039.0 L1191.1,1038.7 L1192.0,1038.4 L1192.9,1038.0 L1194.0,1037.6 L1195.1,1037.2 L1196.5,1036.7 L1198.0,1036.2 L1198.7,1036.0 L1199.5,1035.8 L1200.2,1035.5 L1200.9,1035.3 L1201.7,1035.0 L1202.5,1034.7 L1203.3,1034.5 L1204.1,1034.2 L1204.9,1033.9 L1205.8,1033.6 L1206.7,1033.2 L1207.6,1032.9 L1208.5,1032.6 L1209.5,1032.3 L1210.5,1032.0 L1211.6,1031.6 L1212.7,1031.3 L1213.8,1031.0 L1215.0,1030.6 L1216.2,1030.3 L1217.4,1030.0 L1218.7,1029.7 L1220.1,1029.4 L1221.5,1029.1 L1223.0,1028.8 L1223.8,1028.6 L1224.5,1028.5 L1225.3,1028.3 L1226.1,1028.2 L1226.9,1028.0 L1227.8,1027.9 L1228.6,1027.7 L1229.5,1027.6 L1230.3,1027.4 L1231.2,1027.3 L1232.1,1027.2 L1233.0,1027.0 L1233.9,1026.9 L1234.8,1026.8 L1235.8,1026.6 L1236.7,1026.5 L1237.7,1026.3 L1238.6,1026.2 L1239.6,1026.1 L1240.6,1025.9 L1241.6,1025.8 L1242.6,1025.7 L1243.6,1025.5 L1244.6,1025.4 L1245.7,1025.2 L1246.7,1025.1 L1247.7,1025.0 L1248.8,1024.8 L1249.8,1024.7 L1250.9,1024.5 L1252.0,1024.4 L1253.0,1024.2 L1254.1,1024.1 L1255.2,1023.9 L1256.3,1023.8 L1257.4,1023.6 L1258.5,1023.5 L1259.6,1023.3 L1260.7,1023.2 L1261.8,1023.0 L1262.9,1022.8 L1264.0,1022.7 L1265.1,1022.5 L1266.3,1022.3 L1267.4,1022.2 L1268.5,1022.0 L1269.6,1021.8 L1270.8,1021.6 L1271.9,1021.4 L1273.0,1021.2 L1273.9,1021.1 L1274.8,1020.9 L1275.8,1020.8 L1276.7,1020.6 L1277.7,1020.5 L1278.7,1020.3 L1279.6,1020.1 L1280.6,1020.0 L1281.6,1019.8 L1282.6,1019.6 L1283.7,1019.5 L1284.7,1019.3 L1285.7,1019.1 L1286.8,1018.9 L1287.8,1018.8 L1288.9,1018.6 L1289.9,1018.4 L1291.0,1018.2 L1292.0,1018.0 L1293.1,1017.9 L1294.2,1017.7 L1295.3,1017.5 L1296.4,1017.3 L1297.4,1017.1 L1298.5,1016.9 L1299.6,1016.7 L1300.7,1016.5 L1301.8,1016.4 L1302.9,1016.2 L1303.9,1016.0 L1305.0,1015.8 L1306.1,1015.6 L1307.2,1015.4 L1308.3,1015.2 L1309.3,1015.0 L1310.4,1014.8 L1311.5,1014.6 L1312.6,1014.4 L1313.6,1014.2 L1314.7,1014.1 L1315.7,1013.9 L1316.7,1013.7 L1317.8,1013.5 L1318.8,1013.3 L1319.8,1013.1 L1320.8,1012.9 L1321.8,1012.7 L1322.8,1012.5 L1323.8,1012.3 L1324.8,1012.2 L1325.8,1012.0 L1326.7,1011.8 L1327.6,1011.6 L1328.6,1011.4 L1329.5,1011.2 L1330.4,1011.1 L1331.3,1010.9 L1332.1,1010.6 L1333.0,1010.3 L1333.9,1010.0 L1334.7,1010.0 L1335.5,1010.0 L1336.8,1010.3 L1338.1,1009.6 L1339.4,1008.7 L1340.7,1007.8 L1341.9,1008.4 L1343.1,1008.8 L1344.3,1008.9 L1345.5,1007.9 L1346.6,1006.8 L1347.8,1006.2 L1348.9,1006.6 L1350.0,1007.0 L1351.0,1007.3 L1352.1,1006.6 L1353.1,1005.9 L1354.1,1005.2 L1355.1,1005.1 L1356.1,1005.3 L1357.1,1005.5 L1358.0,1005.6 L1359.0,1004.7 L1359.9,1003.8 L1360.8,1003.0 L1361.7,1002.5 L1362.7,1002.8 L1363.5,1003.1 L1364.4,1003.4 L1365.3,1003.4 L1366.2,1002.6 L1367.0,1001.8 L1367.9,1001.1 L1368.8,1000.6 L1369.6,1000.8 L1370.5,1001.0 L1371.3,1001.1 L1372.2,1001.2 L1373.0,1000.5 L1374.2,999.6 L1375.4,998.7 L1376.6,998.8 L1377.7,998.9 L1378.8,999.0 L1379.9,998.2 L1380.9,997.3 L1381.9,996.4 L1382.9,995.8 L1383.9,995.9 L1384.9,995.9 L1385.8,995.9 L1386.7,995.3 L1387.7,994.7 L1388.6,994.0 L1389.5,993.4 L1390.4,993.4 L1391.4,993.4 L1392.3,993.3 L1393.2,993.1 L1394.1,992.1 L1395.1,991.0 L1396.0,990.0 L1397.0,989.5 L1398.0,989.5 L1399.0,989.5 L1400.0,989.5 L1401.0,988.6 L1402.0,987.7 L1403.0,986.8 L1404.0,986.3 L1405.0,986.3 L1406.0,986.3 L1407.0,986.3 L1408.0,985.4 L1409.0,984.6 L1410.0,983.7 L1411.0,983.2 L1412.0,982.9 L1413.0,982.7 L1414.0,982.5 L1415.0,981.5 L1416.0,980.6 L1417.0,979.6 L1418.0,979.2 L1419.0,979.3 L1420.0,979.4 L1421.0,979.5 L1422.0,978.6 L1423.0,977.7 L1424.0,976.9 L1425.0,976.4 L1426.0,976.3 L1427.1,976.3 L1428.1,976.2 L1429.1,975.4 L1430.1,974.6 L1431.2,973.8 L1432.2,973.6 L1433.2,973.6 L1434.3,973.6 L1435.3,973.4 L1436.3,972.5 L1437.3,971.7 L1438.4,970.8 L1439.4,970.8 L1440.4,970.9 L1441.4,970.9 L1442.3,970.5 L1443.3,969.6 L1444.3,968.9 L1445.2,968.2 L1446.2,968.0 L1447.1,967.8 L1448.0,967.5 L1449.1,967.1 L1450.2,966.5 L1451.2,965.8 L1452.2,964.8 L1453.1,964.1 L1454.1,963.9 L1455.0,964.1 L1455.9,964.5 L1456.8,963.8 L1457.7,962.7 L1458.6,961.5 L1459.5,960.1 L1460.5,960.7 L1461.4,961.4 L1462.4,962.1 L1463.4,961.8 L1464.5,960.0 L1465.6,958.2 L1466.8,956.9 L1468.0,957.5 L1468.8,957.9 L1469.7,958.4 L1470.6,957.6 L1471.5,956.2 L1472.5,954.8 L1473.4,953.4 L1474.4,954.4 L1475.4,955.6 L1476.4,956.8 L1477.4,956.8 L1478.5,955.2 L1479.5,953.5 L1480.6,952.0 L1481.6,952.6 L1482.7,953.3 L1483.8,953.9 L1484.8,952.6 L1485.9,950.9 L1486.9,949.1 L1488.0,948.8 L1489.1,950.2 L1490.1,951.7 L1491.1,952.6 L1492.2,950.6 L1493.2,948.6 L1494.2,946.6 L1495.2,947.2 L1496.1,949.0 L1497.1,950.7 L1498.0,952.5 L1499.1,950.2 L1500.2,948.0 L1501.3,945.8 L1502.4,946.2 L1503.4,947.3 L1504.5,948.4 L1505.6,947.8 L1506.6,945.9 L1507.7,944.0 L1508.7,942.8 L1509.8,944.1 L1510.8,945.3 L1511.8,946.6 L1512.8,945.3 L1513.8,943.2 L1514.8,941.2 L1515.7,940.0 L1516.7,941.2 L1517.6,942.4 L1518.6,943.6 L1519.5,943.2 L1520.4,941.4 L1521.3,939.6 L1522.1,937.9 L1523.0,938.0 L1524.2,940.0 L1525.5,941.9 L1526.7,940.9 L1527.9,938.6 L1529.1,936.9 L1530.3,936.9 L1531.4,937.3 L1532.5,937.4 L1533.6,936.8 L1534.6,936.3 L1535.6,935.7 L1536.5,934.4 L1537.4,934.3 L1538.3,934.8 L1539.1,935.8 L1539.8,937.2 L1540.5,937.0 L1542.6,932.9 L1543.6,930.8 L1544.2,934.2 L1545.0,939.4 L1546.0,947.7 L1547.0,956.9 L1548.0,956.1 L1549.0,953.0 L1549.9,946.7 L1550.8,941.0 L1551.8,940.9 L1553.0,943.3 L1553.9,946.2 L1554.8,943.7 L1555.8,940.3 L1556.9,936.9 L1558.1,937.0 L1559.3,940.8 L1560.5,945.1 L1561.4,945.6 L1562.3,942.8 L1563.3,940.0 L1564.3,937.3 L1565.3,940.7 L1566.4,945.5 L1567.4,950.3 L1568.5,952.1 L1569.5,950.0 L1570.5,947.7 L1571.5,945.5 L1572.5,951.1 L1573.6,956.6 L1574.6,962.1 L1575.7,962.3 L1576.7,959.5 L1577.7,956.7 L1578.7,955.2 L1579.6,959.2 L1580.5,963.0 L1581.7,968.4 L1582.9,966.3 L1584.0,963.2 L1585.1,961.3 L1586.1,963.9 L1587.1,968.1 L1588.0,971.6 L1589.2,975.5 L1590.2,977.7 L1591.1,981.1 L1592.0,985.5 L1593.0,990.0 L1594.0,994.9 L1595.1,1000.2 L1596.2,1005.7 L1597.2,1010.7 L1598.0,1015.0 L1599.2,1022.0 L1600.5,1027.5 L1601.3,1030.0 L1602.2,1032.4 L1603.2,1034.9 L1604.3,1037.4 L1605.5,1040.0 L1606.4,1042.1 L1607.5,1044.5 L1608.5,1047.0 L1609.7,1049.4 L1610.8,1051.4 L1611.9,1053.0 L1613.0,1053.8 L1614.1,1053.8 L1615.2,1053.4 L1616.3,1052.4 L1617.5,1051.1 L1618.5,1049.3 L1619.6,1047.3 L1620.5,1045.0 L1621.6,1040.8 L1622.6,1035.6 L1623.4,1029.9 L1624.4,1024.5 L1625.5,1020.0 L1626.4,1017.5 L1627.4,1015.3 L1628.4,1013.4 L1629.5,1011.8 L1630.6,1010.3 L1631.8,1008.8 L1633.0,1007.5 L1633.9,1006.7 L1634.9,1006.0 L1635.9,1005.5 L1636.9,1005.0 L1638.0,1004.6 L1639.1,1004.2 L1640.1,1003.6 L1641.1,1002.5 L1642.1,1001.2 L1643.0,1000.5 L1644.2,999.4 L1645.5,997.4 L1646.6,993.3 L1647.7,988.9 L1648.8,985.7 L1649.7,985.9 L1650.5,987.4 L1651.8,995.4 L1652.7,1001.6 L1653.5,1002.2 L1654.2,994.2 L1654.9,981.7 L1656.5,974.5 L1657.2,975.6 L1658.1,977.3 L1659.0,979.5 L1660.0,976.2 L1661.1,972.8 L1662.2,969.4 L1663.4,970.9 L1664.6,974.0 L1665.7,977.1 L1666.9,975.0 L1668.0,971.3 L1669.0,967.9 L1670.1,967.4 L1671.1,969.5 L1672.2,971.6 L1673.3,972.5 L1674.3,969.4 L1675.4,966.4 L1676.5,963.5 L1677.5,965.8 L1678.5,968.2 L1679.5,970.7 L1680.5,970.5 L1681.6,967.7 L1682.7,965.2 L1683.8,964.5 L1684.8,968.4 L1685.8,972.4 L1686.8,976.4 L1687.8,976.3 L1688.7,975.2 L1689.6,974.1 L1690.5,973.0 L1691.7,978.1 L1692.7,982.8 L1693.7,987.2 L1694.7,987.6 L1695.7,986.2 L1696.8,985.2 L1698.0,986.5 L1698.9,989.2 L1699.9,991.8 L1700.9,994.0 L1702.0,994.1 L1703.1,994.8 L1704.2,996.4 L1705.3,998.5 L1706.3,1000.2 L1707.3,1002.0 L1708.2,1003.7 L1709.0,1005.1 L1710.3,1008.2 L1711.3,1011.3 L1712.1,1014.6 L1712.9,1017.8 L1714.0,1020.7 L1714.9,1022.5 L1716.0,1022.8 L1717.0,1022.8 L1718.2,1022.7 L1719.3,1023.3 L1720.4,1024.3 L1721.5,1025.5 L1722.5,1026.5 L1723.5,1027.4 L1724.5,1028.4 L1725.5,1029.3 L1726.6,1031.1 L1727.7,1032.6 L1729.0,1033.7 L1729.9,1033.1 L1730.9,1032.4 L1732.0,1031.5 L1733.2,1031.0 L1734.4,1030.8 L1735.5,1030.5 L1736.6,1029.6 L1737.7,1028.2 L1738.7,1026.7 L1739.5,1025.3 L1740.2,1024.7 L1741.8,1017.8 L1742.8,1008.7 L1743.6,1005.0 L1744.5,1000.6 L1745.6,996.1 L1746.7,991.7 L1747.8,988.6 L1749.0,985.7 L1750.0,983.2 L1751.1,979.4 L1752.2,975.5 L1753.3,971.8 L1754.4,969.2 L1755.5,967.2 L1756.5,965.6 L1757.6,964.1 L1758.7,963.2 L1759.7,962.7 L1760.7,962.4 L1761.7,962.6 L1762.8,961.7 L1763.8,959.6 L1764.8,955.3 L1765.8,950.2 L1766.8,944.9 L1767.9,940.4 L1769.0,937.3 L1770.0,935.2 L1770.9,933.5 L1771.9,931.3 L1772.9,929.2 L1774.0,927.1 L1775.2,925.4 L1776.5,924.1 L1777.4,923.2 L1778.3,922.1 L1779.3,920.3 L1780.3,918.4 L1781.4,916.5 L1782.4,915.6 L1783.5,914.8 L1784.6,914.2 L1785.8,912.6 L1786.9,910.6 L1787.9,908.7 L1789.0,907.7 L1790.0,907.5 L1791.1,907.5 L1792.1,907.6 L1793.1,906.8 L1794.1,906.2 L1795.1,905.5 L1796.1,905.5 L1797.1,905.8 L1798.2,906.1 L1799.3,906.0 L1800.4,904.7 L1801.5,903.3 L1802.4,902.0 L1803.4,901.8 L1804.4,901.6 L1805.4,901.3 L1806.4,900.5 L1807.4,898.8 L1808.5,897.1 L1809.5,895.5 L1810.6,894.9 L1811.6,894.3 L1812.6,893.9 L1813.6,893.0 L1814.6,892.0 L1815.6,891.2 L1816.5,890.5 L1817.6,891.0 L1818.8,891.7 L1819.9,892.6 L1821.0,892.5 L1822.1,892.4 L1823.2,892.4 L1824.3,893.3 L1825.3,894.5 L1826.3,895.7 L1827.2,896.7 L1828.1,897.0 L1829.0,897.3 L1830.3,898.0 L1831.3,899.8 L1832.2,901.9 L1833.0,903.9 L1834.0,905.9 L1835.1,906.8 L1836.5,907.1 L1837.3,907.1 L1838.2,907.8 L1839.1,908.8 L1840.1,909.7 L1841.1,910.5 L1842.2,910.1 L1843.3,909.7 L1844.4,909.2 L1845.5,909.6 L1846.6,910.0 L1847.7,910.4 L1848.7,910.2 L1849.7,909.6 L1850.6,909.1 L1851.5,908.6 L1852.7,909.3 L1853.7,909.7 L1854.6,909.9 L1855.5,909.1 L1856.3,907.7 L1857.2,906.3 L1858.1,904.9 L1859.1,904.5 L1860.2,904.9 L1861.5,905.6 L1862.3,905.6 L1863.2,905.0 L1864.2,904.4 L1865.2,903.7 L1866.2,904.1 L1867.2,905.0 L1868.3,906.0 L1869.4,906.4 L1870.5,905.9 L1871.6,905.5 L1872.7,905.3 L1873.8,906.2 L1874.9,907.2 L1876.0,908.2 L1877.0,908.0 L1878.0,907.8 L1879.0,907.8 L1880.1,908.8 L1881.1,910.7 L1882.2,912.9 L1883.2,914.9 L1884.2,915.9 L1885.2,917.1 L1886.2,918.3 L1887.2,920.2 L1888.2,922.4 L1889.2,924.5 L1890.2,926.3 L1891.1,927.1 L1892.1,927.6 L1893.0,927.8 L1894.0,928.2 L1895.1,928.5 L1896.2,928.4 L1897.4,927.5 L1898.5,925.7 L1899.7,923.7 L1900.8,921.8 L1901.9,920.4 L1903.0,919.1 L1904.0,917.8 L1905.0,915.7 L1906.0,914.0 L1906.9,912.5 L1907.8,911.9 L1909.1,912.7 L1910.2,914.2 L1911.2,915.9 L1912.1,917.2 L1913.0,918.8 L1914.0,920.3 L1915.2,922.4 L1916.1,924.1 L1917.1,926.1 L1918.1,928.0 L1919.2,928.8 L1920.3,929.7 L1921.4,930.5 L1922.5,932.7 L1923.6,934.9 L1924.6,936.9 L1925.6,937.7 L1926.5,937.7 L1927.7,937.4 L1928.8,937.3 L1929.8,938.1 L1930.8,938.4 L1931.8,938.4 L1932.8,937.0 L1934.0,935.0 L1934.9,933.2 L1935.8,931.4 L1936.7,930.1 L1937.7,928.5 L1938.7,927.0 L1939.7,924.8 L1940.7,922.4 L1941.8,920.2 L1942.9,918.7 L1944.0,918.3 L1945.0,918.4 L1945.9,918.7 L1946.9,918.3 L1948.0,918.1 L1949.0,918.0 L1950.1,918.5 L1951.2,919.5 L1952.2,920.5 L1953.3,921.0 L1954.4,920.5 L1955.5,919.9 L1956.5,919.0 L1957.6,919.1 L1958.6,919.0 L1959.7,918.8 L1960.9,917.5 L1962.0,915.8 L1963.1,914.0 L1964.1,913.1 L1965.2,912.9 L1966.2,912.7 L1967.2,912.3 L1968.1,911.0 L1969.0,910.0 L1970.3,908.9 L1971.5,909.3 L1972.6,910.2 L1973.5,911.0 L1974.5,911.0 L1975.5,910.1 L1976.5,908.2 L1977.5,905.6 L1978.5,903.7 L1979.5,901.2 L1980.4,898.4 L1981.5,894.7 L1982.7,889.9 L1984.0,885.0 L1984.9,882.5 L1985.8,880.4 L1986.8,878.3 L1987.9,876.1 L1989.0,872.8 L1990.1,869.3 L1991.2,865.9 L1992.3,863.1 L1993.4,860.7 L1994.5,858.3 L1995.5,855.4 L1996.5,852.0 L1997.6,848.1 L1998.7,844.5 L1999.8,842.0 L2000.8,839.5 L2001.8,837.1 L2002.8,833.8 L2003.8,830.4 L2004.7,827.0 L2005.6,824.0 L2006.5,822.0 L2007.7,819.3 L2008.8,816.8 L2009.8,813.1 L2010.7,809.3 L2011.7,805.4 L2012.8,802.0 L2014.0,799.8 L2014.9,798.3 L2015.8,796.7 L2016.8,794.2 L2017.8,791.4 L2018.8,788.6 L2019.9,786.3 L2020.9,784.6 L2022.0,783.1 L2023.0,781.6 L2024.0,779.2 L2025.0,776.8 L2026.0,774.6 L2027.1,773.1 L2028.1,772.4 L2029.2,771.7 L2030.2,770.9 L2031.2,769.4 L2032.2,768.0 L2033.1,766.7 L2034.0,765.7 L2035.1,764.8 L2036.1,763.9 L2037.0,763.0 L2037.9,761.5 L2038.9,760.0 L2040.1,758.7 L2041.5,758.5 L2042.3,758.9 L2043.2,759.4 L2044.2,759.9 L2045.2,759.6 L2046.3,759.4 L2047.4,759.1 L2048.6,760.2 L2049.7,761.3 L2050.9,762.3 L2052.0,762.2 L2053.0,761.9 L2054.0,761.5 L2054.9,761.4 L2055.8,761.5 L2056.5,761.3 L2058.1,759.1 L2059.0,754.3 L2059.7,749.5 L2060.4,746.2 L2061.5,745.7 L2062.4,748.4 L2063.5,753.1 L2064.6,759.2 L2065.8,765.2 L2067.0,770.8 L2068.2,775.4 L2069.3,779.0 L2070.2,780.5 L2071.5,778.1 L2072.6,771.4 L2073.6,761.8 L2074.6,751.6 L2075.6,742.2 L2076.5,736.2 L2077.4,731.5 L2078.1,728.1 L2078.8,725.6 L2079.9,722.8 L2081.5,719.5 L2082.2,718.2 L2083.0,717.4 L2083.8,716.8 L2084.7,716.3 L2085.6,715.8 L2086.5,714.9 L2087.5,713.6 L2088.6,712.3 L2089.7,711.2 L2090.8,711.0 L2091.9,710.8 L2093.0,710.8 L2094.2,709.6 L2095.3,708.6 L2096.5,707.6 L2097.4,708.0 L2098.3,708.6 L2099.3,709.2 L2100.2,709.7 L2101.2,709.3 L2102.2,709.0 L2103.2,708.7 L2104.3,709.2 L2105.3,710.0 L2106.3,710.8 L2107.4,711.2 L2108.4,711.1 L2109.5,711.0 L2110.5,710.9 L2111.6,711.6 L2112.6,712.3 L2113.6,712.8 L2114.6,712.8 L2115.6,712.4 L2116.5,711.9 L2117.6,711.4 L2118.7,711.8 L2119.8,712.2 L2120.9,712.4 L2122.0,711.4 L2123.1,710.3 L2124.1,709.1 L2125.2,708.6 L2126.2,708.4 L2127.3,708.2 L2128.3,707.8 L2129.3,706.9 L2130.3,706.1 L2131.2,705.3 L2132.2,705.1 L2133.1,705.2 L2134.0,705.4 L2135.2,705.6 L2136.3,705.0 L2137.4,704.5 L2138.4,704.2 L2139.3,704.9 L2140.2,705.9 L2141.2,706.9 L2142.1,707.7 L2143.1,707.4 L2144.2,707.1 L2145.3,706.6 L2146.5,707.3 L2147.4,707.9 L2148.4,708.4 L2149.4,708.4 L2150.5,707.5 L2151.7,706.6 L2152.8,706.0 L2154.0,706.5 L2155.1,707.0 L2156.3,707.2 L2157.4,706.5 L2158.5,705.8 L2159.6,705.4 L2160.6,706.0 L2161.6,706.7 L2162.5,707.4 L2163.3,707.8 L2164.0,707.9 L2165.8,709.8 L2166.9,714.1 L2167.6,719.5 L2168.2,723.9 L2169.0,726.5 L2169.8,726.8 L2170.5,724.6 L2171.3,721.3 L2172.4,717.4 L2174.0,714.1 L2174.7,713.7 L2175.6,713.2 L2176.5,712.7 L2177.5,711.7 L2178.6,710.1 L2179.7,708.4 L2180.8,707.1 L2182.0,706.6 L2183.2,706.1 L2184.3,705.4 L2185.4,703.8 L2186.4,702.3 L2187.4,701.1 L2188.2,700.8 L2189.0,700.8 L2190.5,701.4 L2191.5,702.3 L2192.4,703.4 L2193.1,704.6 L2194.0,705.3 L2195.2,705.7 L2196.1,705.8 L2196.9,705.5 L2197.9,705.1 L2198.8,703.5 L2199.8,701.7 L2200.9,699.8 L2201.9,698.6 L2203.0,698.5 L2204.2,698.7 L2205.3,698.7 L2206.5,698.0 L2207.4,697.7 L2208.4,697.5 L2209.3,698.7 L2210.4,700.2 L2211.4,701.8 L2212.5,702.9 L2213.5,703.2 L2214.6,703.6 L2215.7,704.2 L2216.7,706.0 L2217.8,707.7 L2218.8,709.4 L2219.7,710.1 L2220.6,710.5 L2221.5,710.8 L2222.7,711.2 L2223.8,712.3 L2224.8,713.2 L2225.7,714.1 L2226.7,714.1 L2227.6,713.9 L2228.5,713.6 L2229.4,713.3 L2230.4,714.1 L2231.5,715.1 L2232.4,716.0 L2233.4,716.4 L2234.3,716.0 L2235.3,715.6 L2236.3,715.1 L2237.3,715.8 L2238.3,716.7 L2239.4,717.7 L2240.5,717.8 L2241.6,717.0 L2242.8,715.9 L2244.0,715.4 L2244.9,715.7 L2245.9,716.0 L2246.9,716.2 L2247.9,715.2 L2249.0,713.9 L2250.1,712.6 L2251.2,712.0 L2252.3,711.8 L2253.5,711.6 L2254.6,710.8 L2255.7,709.5 L2256.7,708.2 L2257.8,707.2 L2258.8,706.9 L2259.8,706.5 L2260.7,706.1 L2261.5,705.3 L2262.8,703.6 L2264.0,702.2 L2265.1,701.0 L2266.0,700.0 L2267.0,698.7 L2267.9,697.3 L2268.7,695.6 L2269.6,693.9 L2270.5,692.0 L2271.5,689.8 L2272.5,687.6 L2273.5,685.3 L2274.5,683.0 L2275.5,680.2 L2276.5,676.8 L2277.5,673.3 L2278.5,669.5 L2279.5,667.9 L2280.5,666.6 L2281.5,665.4 L2282.5,663.0 L2283.5,659.1 L2284.4,655.4 L2285.4,651.7 L2286.3,650.0 L2287.3,648.7 L2288.3,647.4 L2289.3,645.3 L2290.4,641.6 L2291.5,637.8 L2292.4,634.5 L2293.4,633.7 L2294.4,633.0 L2295.4,632.3 L2296.4,630.4 L2297.4,626.8 L2298.5,623.1 L2299.6,619.7 L2300.6,619.9 L2301.7,620.1 L2302.9,620.6 L2304.0,617.4 L2304.9,614.6 L2305.9,611.7 L2307.0,610.8 L2308.0,612.3 L2309.1,613.9 L2310.2,614.7 L2311.3,612.0 L2312.4,609.3 L2313.5,606.8 L2314.6,608.1 L2315.6,609.4 L2316.5,610.6 L2317.4,610.3 L2318.2,608.6 L2319.0,607.0 L2320.5,603.2 L2321.7,602.9 L2322.7,602.3 L2323.5,601.6 L2324.3,600.2 L2325.2,597.5 L2326.3,595.2 L2327.4,593.5 L2328.5,595.4 L2329.5,597.4 L2330.5,598.8 L2331.5,597.5 L2332.6,593.0 L2333.5,587.3 L2334.5,581.1 L2335.4,577.1 L2336.5,573.7 L2337.5,571.0 L2338.4,566.6 L2339.5,560.2 L2340.5,554.0 L2341.6,548.8 L2342.8,548.0 L2343.8,548.5 L2344.8,549.9 L2345.9,549.6 L2347.1,549.1 L2348.2,548.6 L2349.2,549.5 L2350.2,550.3 L2351.4,549.8 L2352.6,546.9 L2353.7,542.8 L2354.7,539.1 L2355.7,536.6 L2356.5,535.8 L2358.1,537.3 L2359.0,540.0" stroke="#1a6fdc"/>
</g>
<rect x="176" y="49" width="2183" height="1745" fill="none" stroke="#000" stroke-width="8"/>
<g stroke="#000" stroke-width="8">
<line x1="176.00" y1="1794" x2="176.00" y2="1828"/>
<line x1="327.60" y1="1794" x2="327.60" y2="1811"/>
<line x1="479.19" y1="1794" x2="479.19" y2="1828"/>
<line x1="630.79" y1="1794" x2="630.79" y2="1811"/>
<line x1="782.39" y1="1794" x2="782.39" y2="1828"/>
<line x1="933.99" y1="1794" x2="933.99" y2="1811"/>
<line x1="1085.58" y1="1794" x2="1085.58" y2="1828"/>
<line x1="1237.18" y1="1794" x2="1237.18" y2="1811"/>
<line x1="1388.78" y1="1794" x2="1388.78" y2="1828"/>
<line x1="1540.38" y1="1794" x2="1540.38" y2="1811"/>
<line x1="1691.97" y1="1794" x2="1691.97" y2="1828"/>
<line x1="1843.57" y1="1794" x2="1843.57" y2="1811"/>
<line x1="1995.17" y1="1794" x2="1995.17" y2="1828"/>
<line x1="2146.76" y1="1794" x2="2146.76" y2="1811"/>
<line x1="2298.36" y1="1794" x2="2298.36" y2="1828"/>
</g>
<g font-size="74" text-anchor="middle">
<text x="176.00" y="1908">4000</text>
<text x="479.19" y="1908">3500</text>
<text x="782.39" y="1908">3000</text>
<text x="1085.58" y="1908">2500</text>
<text x="1388.78" y="1908">2000</text>
<text x="1691.97" y="1908">1500</text>
<text x="1995.17" y="1908">1000</text>
<text x="2298.36" y="1908">500</text>
</g>
<text x="857.5" y="2059.6" font-size="91.7">Wavenumber (cm<tspan font-size="59" dy="-37.5" dx="4">−</tspan><tspan font-size="59">1</tspan><tspan dy="37.5" font-size="91.7">)</tspan></text>
<text transform="translate(101,1291) rotate(-90)" font-size="91">Transmittance (%)</text>
<g stroke-width="4.8" fill="none">
<line x1="200" y1="169.4" x2="405" y2="169.4" stroke="#505050"/>
<line x1="200" y1="281.5" x2="405" y2="281.5" stroke="#f04040"/>
<line x1="200" y1="392.5" x2="405" y2="392.5" stroke="#1a6fdc"/>
</g>
<g font-size="92">
<text x="429.3" y="201.1">DT0</text>
<text x="429.3" y="311.8">DT0_1</text>
<text x="429.3" y="424">DT0_2</text>
</g>
<g font-size="58.3">
<text x="280.42" y="616.20">N-H stretching vibration</text>
<text x="427.72" y="686.30">and/or O-H</text>
<text x="461.78" y="772.80">3400</text>
<text x="1513.32" y="249.30">amides, pyridine</text>
<text x="1578.32" y="320.40">and C=N</text>
<text x="1721.4" y="429.8" text-anchor="middle">1441</text>
<text x="2022.22" y="168.90">N-H</text>
<text x="2028.46" y="255.90">880</text>
<text x="1947.6" y="1117.7" text-anchor="middle">1100</text>
<text x="1902.94" y="1200.70">C-N</text>
<text x="1755.68" y="1271.60">stretching vibration</text>
</g>
</svg></body></html>
